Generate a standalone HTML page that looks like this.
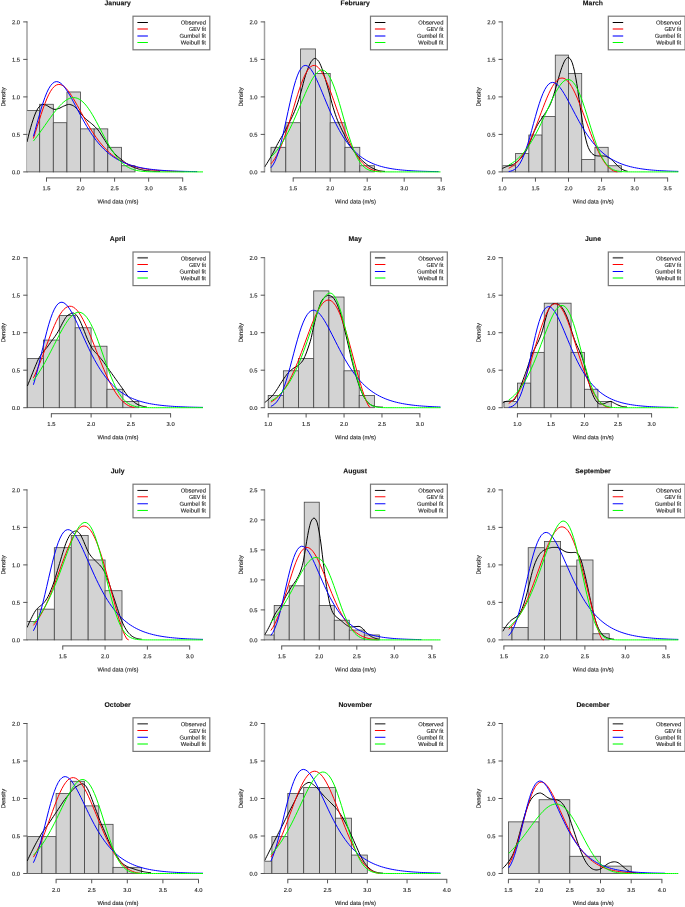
<!DOCTYPE html>
<html><head><meta charset="utf-8"><title>Monthly wind data density fits</title>
<style>
html,body{margin:0;padding:0;background:#fff}
svg{display:block}
text{font-family:"Liberation Sans",sans-serif;fill:#222;text-rendering:geometricPrecision}
.t{font-size:5.8px;stroke:#222;stroke-width:.12px}
.ti{font-size:6.85px;font-weight:bold;fill:#111;stroke:#111;stroke-width:.1px}
.bar rect{fill:#d3d3d3;stroke:#444;stroke-width:.8}
.cv path{fill:none;stroke-width:1;stroke-linejoin:round}
.k{stroke:#000}.r{stroke:#f00}.b{stroke:#00f}.g{stroke:#0f0}
.lw{stroke-width:1.1;fill:none}.th{stroke-width:1.8}.th.k{stroke:#666}.th.r{stroke:#f66}.th.b{stroke:#66f}.th.g{stroke:#6f6}
.ay{fill:none;stroke:#a0a0a0;stroke-width:1.5}.tk{fill:none;stroke:#555;stroke-width:1}.xl{fill:none;stroke:#777;stroke-width:1.2}
.lg{fill:#fff;stroke:#777;stroke-width:1.2}
</style></head>
<body>
<svg width="685" height="907" viewBox="0 0 685 907">
<g><clipPath id="c1"><rect x="27.1" y="16.1" width="182.7" height="161.7"/></clipPath>
<path class="ay" d="M27 172.3 V21.5"/>
<g clip-path="url(#c1)" class="bar"><rect x="26.07" y="110.42" width="13.62" height="61.48"/><rect x="39.69" y="104.28" width="13.62" height="67.62"/><rect x="53.31" y="122.72" width="13.62" height="49.18"/><rect x="66.93" y="91.98" width="13.62" height="79.92"/><rect x="80.55" y="128.87" width="13.62" height="43.03"/><rect x="94.17" y="128.87" width="13.62" height="43.03"/><rect x="107.79" y="147.31" width="13.62" height="24.59"/><rect x="121.41" y="165.75" width="13.62" height="6.15"/></g>
<g clip-path="url(#c1)" class="cv"><path class="k" d="M27 142 L28.22 136.87 L29.44 132.08 L30.66 127.63 L31.88 123.49 L33.1 119.7 L34.32 116.15 L35.54 113 L36.76 110.47 L37.98 108.29 L39.2 106.81 L40.42 105.68 L41.64 104.8 L42.86 104.4 L44.08 104.53 L45.3 104.91 L46.52 105.4 L47.74 105.97 L48.96 106.75 L50.18 107.57 L51.4 108.18 L52.62 108.76 L53.84 109.22 L55.06 109.4 L56.28 109.25 L57.5 108.91 L58.72 108.49 L59.94 108.03 L61.17 107.42 L62.39 106.76 L63.61 106.16 L64.83 105.66 L66.05 105.14 L67.27 104.69 L68.49 104.43 L69.71 104.45 L70.93 104.75 L72.15 105.23 L73.37 105.78 L74.59 106.66 L75.81 107.8 L77.03 109.03 L78.25 110.37 L79.47 111.9 L80.69 113.45 L81.91 114.9 L83.13 116.21 L84.35 117.47 L85.57 118.68 L86.79 119.81 L88.01 120.85 L89.23 121.8 L90.45 122.73 L91.67 123.71 L92.89 124.79 L94.11 125.91 L95.33 127.09 L96.55 128.35 L97.77 129.73 L98.99 131.28 L100.21 133.05 L101.43 134.96 L102.65 136.91 L103.87 138.81 L105.09 140.67 L106.31 142.57 L107.53 144.46 L108.75 146.28 L109.97 147.96 L111.19 149.54 L112.41 151.05 L113.63 152.49 L114.85 153.83 L116.07 155.07 L117.29 156.2 L118.51 157.25 L119.73 158.23 L120.95 159.19 L122.17 160.14 L123.39 161.1 L124.61 162.05 L125.83 162.96 L127.06 163.81 L128.28 164.56 L129.5 165.26 L130.72 165.9 L131.94 166.5 L133.16 167.05 L134.38 167.55 L135.6 168.02 L136.82 168.46 L138.04 168.86 L139.26 169.21 L140.48 169.51 L141.7 169.78 L142.92 170.04 L144.14 170.28 L145.36 170.48 L146.58 170.65 L147.8 170.78 L149.02 170.88 L150.24 170.97 L151.46 171.06 L152.68 171.14 L153.9 171.22 L155.12 171.28 L156.34 171.33 L157.56 171.37 L158.78 171.39 L160 171.4"/><path class="r" d="M33.4 138.46 L35.31 132.62 L37.21 126.6 L39.12 120.56 L41.02 114.64 L42.93 108.98 L44.83 103.71 L46.74 98.95 L48.64 94.78 L50.55 91.28 L52.46 88.49 L54.36 86.43 L56.27 85.09 L58.17 84.46 L60.08 84.5 L61.98 85.17 L63.89 86.39 L65.8 88.12 L67.7 90.29 L69.61 92.82 L71.51 95.65 L73.42 98.72 L75.32 101.96 L77.23 105.33 L79.13 108.77 L81.04 112.24 L82.95 115.7 L84.85 119.12 L86.76 122.47 L88.66 125.73 L90.57 128.88 L92.47 131.91 L94.38 134.8 L96.29 137.55 L98.19 140.17 L100.1 142.63 L102 144.95 L103.91 147.13 L105.81 149.16 L107.72 151.06 L109.62 152.82 L111.53 154.46 L113.44 155.98 L115.34 157.38 L117.25 158.68 L119.15 159.87 L121.06 160.97 L122.96 161.97 L124.87 162.9 L126.78 163.74 L128.68 164.51 L130.59 165.22 L132.49 165.86 L134.4 166.45 L136.3 166.98 L138.21 167.47 L140.11 167.91 L142.02 168.31 L143.93 168.67 L145.83 169 L147.74 169.3 L149.64 169.57 L151.55 169.81 L153.45 170.03 L155.36 170.23 L157.27 170.41 L159.17 170.57 L161.08 170.71 L162.98 170.84 L164.89 170.95 L166.79 171.06 L168.7 171.15 L170.6 171.24 L172.51 171.31 L174.42 171.38 L176.32 171.44 L178.23 171.49 L180.13 171.54 L182.04 171.58 L183.94 171.62"/><path class="b" d="M33.4 136.43 L35.31 129.64 L37.21 122.7 L39.12 115.84 L41.02 109.24 L42.93 103.11 L44.83 97.58 L46.74 92.79 L48.64 88.82 L50.55 85.72 L52.46 83.5 L54.36 82.14 L56.27 81.61 L58.17 81.85 L60.08 82.79 L61.98 84.34 L63.89 86.41 L65.8 88.94 L67.7 91.82 L69.61 94.97 L71.51 98.34 L73.42 101.85 L75.32 105.44 L77.23 109.06 L79.13 112.66 L81.04 116.22 L82.95 119.7 L84.85 123.08 L86.76 126.34 L88.66 129.46 L90.57 132.44 L92.47 135.28 L94.38 137.95 L96.29 140.48 L98.19 142.86 L100.1 145.08 L102 147.16 L103.91 149.1 L105.81 150.91 L107.72 152.59 L109.62 154.15 L111.53 155.59 L113.44 156.92 L115.34 158.16 L117.25 159.29 L119.15 160.34 L121.06 161.31 L122.96 162.2 L124.87 163.01 L126.78 163.76 L128.68 164.45 L130.59 165.09 L132.49 165.67 L134.4 166.2 L136.3 166.69 L138.21 167.13 L140.11 167.54 L142.02 167.92 L143.93 168.26 L145.83 168.58 L147.74 168.86 L149.64 169.13 L151.55 169.37 L153.45 169.59 L155.36 169.79 L157.27 169.97 L159.17 170.14 L161.08 170.29 L162.98 170.43 L164.89 170.56 L166.79 170.68 L168.7 170.78 L170.6 170.88 L172.51 170.97 L174.42 171.05 L176.32 171.12 L178.23 171.19 L180.13 171.25 L182.04 171.31 L183.94 171.36 L185.85 171.41 L187.76 171.45 L189.66 171.49 L191.57 171.53 L193.47 171.56 L195.38 171.59 L197.28 171.62"/><path class="g" d="M33.4 141.06 L35.31 138.63 L37.21 136.12 L39.12 133.54 L41.02 130.9 L42.93 128.22 L44.83 125.52 L46.74 122.8 L48.64 120.1 L50.55 117.43 L52.46 114.82 L54.36 112.29 L56.27 109.87 L58.17 107.59 L60.08 105.47 L61.98 103.55 L63.89 101.85 L65.8 100.4 L67.7 99.23 L69.61 98.36 L71.51 97.81 L73.42 97.6 L75.32 97.75 L77.23 98.26 L79.13 99.13 L81.04 100.38 L82.95 101.99 L84.85 103.94 L86.76 106.23 L88.66 108.82 L90.57 111.68 L92.47 114.79 L94.38 118.1 L96.29 121.57 L98.19 125.15 L100.1 128.8 L102 132.47 L103.91 136.11 L105.81 139.68 L107.72 143.14 L109.62 146.45 L111.53 149.59 L113.44 152.52 L115.34 155.23 L117.25 157.71 L119.15 159.94 L121.06 161.93 L122.96 163.68 L124.87 165.2 L126.78 166.5 L128.68 167.6 L130.59 168.52 L132.49 169.28 L134.4 169.9 L136.3 170.39 L138.21 170.77 L140.11 171.07 L142.02 171.3 L143.93 171.48 L145.83 171.6 L147.74 171.7 L149.64 171.76 L151.55 171.81 L153.45 171.84 L155.36 171.86 L157.27 171.88 L159.17 171.89 L161.08 171.89 L162.98 171.89 L164.89 171.9 L166.79 171.9 L168.7 171.9 L170.6 171.9 L172.51 171.9 L174.42 171.9 L176.32 171.9 L178.23 171.9 L180.13 171.9 L182.04 171.9 L183.94 171.9 L185.85 171.9 L187.76 171.9 L189.66 171.9 L191.57 171.9 L193.47 171.9 L195.38 171.9 L197.28 171.9 L199.19 171.9 L201.09 171.9 L203 171.9"/></g>
<path class="tk" d="M27.4 171.9 h-4.2M27.4 134.4 h-4.2M27.4 96.9 h-4.2M27.4 59.4 h-4.2M27.4 21.9 h-4.2"/><path class="xl" d="M46.1 177.8 H183.1"/><path class="tk" d="M46.5 177.8 v3.9M80.55 177.8 v3.9M114.6 177.8 v3.9M148.65 177.8 v3.9M182.7 177.8 v3.9"/><text class="t" text-anchor="end" transform="translate(20.1 174.2) rotate(0.03)">0.0</text><text class="t" text-anchor="end" transform="translate(20.1 136.7) rotate(0.03)">0.5</text><text class="t" text-anchor="end" transform="translate(20.1 99.2) rotate(0.03)">1.0</text><text class="t" text-anchor="end" transform="translate(20.1 61.7) rotate(0.03)">1.5</text><text class="t" text-anchor="end" transform="translate(20.1 24.2) rotate(0.03)">2.0</text><text class="t" text-anchor="middle" transform="translate(46.5 190.3) rotate(0.03)">1.5</text><text class="t" text-anchor="middle" transform="translate(80.55 190.3) rotate(0.03)">2.0</text><text class="t" text-anchor="middle" transform="translate(114.6 190.3) rotate(0.03)">2.5</text><text class="t" text-anchor="middle" transform="translate(148.65 190.3) rotate(0.03)">3.0</text><text class="t" text-anchor="middle" transform="translate(182.7 190.3) rotate(0.03)">3.5</text><text class="t" text-anchor="middle" transform="translate(117.85 203.5) rotate(0.03)">Wind data (m/s)</text><text class="t" text-anchor="middle" transform="translate(5.3 96.9) rotate(-89.97)">Density</text><text class="ti" text-anchor="middle" transform="translate(117.65 5.3) rotate(0.03)">January</text><rect class="lg" x="133" y="16.2" width="76.8" height="33.6"/><path fill="none" stroke="#000" stroke-width="1.0" d="M137.4 22.5 h10.5"/><text class="t" text-anchor="end" transform="translate(205.9 24.6) rotate(0.03)">Observed</text><path fill="none" stroke="#f66" stroke-width="1.8" d="M137.4 29 h10.5"/><text class="t" text-anchor="end" textLength="16.8" lengthAdjust="spacingAndGlyphs" transform="translate(205.9 31.2) rotate(0.03)">GEV fit</text><path fill="none" stroke="#66f" stroke-width="1.8" d="M137.4 36 h10.5"/><text class="t" text-anchor="end" transform="translate(205.9 37.8) rotate(0.03)">Gumbel fit</text><path fill="none" stroke="#0f0" stroke-width="1.0" d="M137.4 42.5 h10.5"/><text class="t" text-anchor="end" transform="translate(205.9 44.4) rotate(0.03)">Weibull fit</text></g>
<g><clipPath id="c2"><rect x="264.6" y="16.1" width="182.7" height="161.7"/></clipPath>
<path class="ay" d="M264.5 172.3 V21.5"/>
<g clip-path="url(#c2)" class="bar"><rect x="271" y="147.31" width="14.8" height="24.59"/><rect x="285.8" y="122.72" width="14.8" height="49.18"/><rect x="300.6" y="48.95" width="14.8" height="122.95"/><rect x="315.4" y="73.54" width="14.8" height="98.36"/><rect x="330.2" y="122.72" width="14.8" height="49.18"/><rect x="345" y="147.31" width="14.8" height="24.59"/><rect x="359.8" y="165.75" width="14.8" height="6.15"/></g>
<g clip-path="url(#c2)" class="cv"><path class="k" d="M264.6 167 L265.7 165.31 L266.81 163.57 L267.91 161.79 L269.02 159.97 L270.12 158.11 L271.23 156.2 L272.33 154.23 L273.44 152.17 L274.54 149.95 L275.65 147.67 L276.75 145.47 L277.86 143.44 L278.96 141.51 L280.06 139.62 L281.17 137.71 L282.27 135.8 L283.38 133.91 L284.48 131.95 L285.59 129.88 L286.69 127.69 L287.8 125.44 L288.9 123.2 L290.01 121.03 L291.11 118.9 L292.21 116.68 L293.32 114.28 L294.42 111.71 L295.53 108.97 L296.63 106.02 L297.74 102.84 L298.84 99.35 L299.95 95.64 L301.05 91.82 L302.16 87.68 L303.26 83.32 L304.37 79.14 L305.47 75.53 L306.57 72.22 L307.68 69.19 L308.78 66.48 L309.89 64.03 L310.99 61.81 L312.1 60.3 L313.2 59.27 L314.31 58.55 L315.41 58.45 L316.52 59.04 L317.62 60.03 L318.72 61.33 L319.83 63.39 L320.93 65.85 L322.04 68.66 L323.14 71.97 L324.25 75.55 L325.35 79.15 L326.46 82.9 L327.56 86.8 L328.67 90.79 L329.77 94.87 L330.88 99.16 L331.98 103.39 L333.08 107.28 L334.19 110.87 L335.29 114.26 L336.4 117.41 L337.5 120.26 L338.61 122.85 L339.71 125.27 L340.82 127.61 L341.92 129.91 L343.03 132.11 L344.13 134.28 L345.23 136.47 L346.34 138.76 L347.44 141.05 L348.55 143.2 L349.65 145.09 L350.76 146.81 L351.86 148.42 L352.97 149.95 L354.07 151.42 L355.18 152.81 L356.28 154.15 L357.39 155.45 L358.49 156.72 L359.59 157.94 L360.7 159.1 L361.8 160.18 L362.91 161.2 L364.01 162.17 L365.12 163.1 L366.22 163.98 L367.33 164.82 L368.43 165.61 L369.54 166.36 L370.64 167.08 L371.74 167.75 L372.85 168.33 L373.95 168.84 L375.06 169.32 L376.16 169.76 L377.27 170.15 L378.37 170.46 L379.48 170.69 L380.58 170.9 L381.69 171.09 L382.79 171.24 L383.9 171.35 L385 171.4"/><path class="r" d="M270.9 163.84 L272.81 161.56 L274.71 158.82 L276.62 155.61 L278.52 151.89 L280.43 147.67 L282.33 142.95 L284.24 137.77 L286.14 132.17 L288.05 126.22 L289.96 120.01 L291.86 113.63 L293.77 107.21 L295.67 100.85 L297.58 94.69 L299.48 88.86 L301.39 83.47 L303.3 78.63 L305.2 74.45 L307.11 71 L309.01 68.34 L310.92 66.52 L312.82 65.56 L314.73 65.46 L316.63 66.2 L318.54 67.74 L320.45 70.03 L322.35 73.01 L324.26 76.59 L326.16 80.69 L328.07 85.24 L329.97 90.13 L331.88 95.27 L333.79 100.59 L335.69 106.01 L337.6 111.43 L339.5 116.81 L341.41 122.07 L343.31 127.16 L345.22 132.04 L347.12 136.67 L349.03 141.03 L350.94 145.09 L352.84 148.84 L354.75 152.26 L356.65 155.37 L358.56 158.16 L360.46 160.63 L362.37 162.8 L364.28 164.69 L366.18 166.3 L368.09 167.65 L369.99 168.77 L371.9 169.68 L373.8 170.39 L375.71 170.93 L377.61 171.33 L379.52 171.59 L381.43 171.76"/><path class="b" d="M270.9 167.76 L272.81 165.26 L274.71 161.8 L276.62 157.29 L278.52 151.68 L280.43 145 L282.33 137.41 L284.24 129.11 L286.14 120.36 L288.05 111.48 L289.96 102.79 L291.86 94.57 L293.77 87.09 L295.67 80.56 L297.58 75.13 L299.48 70.89 L301.39 67.87 L303.3 66.06 L305.2 65.41 L307.11 65.81 L309.01 67.16 L310.92 69.34 L312.82 72.22 L314.73 75.66 L316.63 79.55 L318.54 83.77 L320.45 88.21 L322.35 92.79 L324.26 97.42 L326.16 102.04 L328.07 106.59 L329.97 111.03 L331.88 115.32 L333.79 119.44 L335.69 123.37 L337.6 127.1 L339.5 130.62 L341.41 133.92 L343.31 137.01 L345.22 139.9 L347.12 142.58 L349.03 145.07 L350.94 147.37 L352.84 149.49 L354.75 151.45 L356.65 153.25 L358.56 154.91 L360.46 156.42 L362.37 157.81 L364.28 159.08 L366.18 160.25 L368.09 161.31 L369.99 162.27 L371.9 163.16 L373.8 163.96 L375.71 164.69 L377.61 165.36 L379.52 165.96 L381.43 166.52 L383.33 167.02 L385.24 167.47 L387.14 167.88 L389.05 168.26 L390.95 168.6 L392.86 168.91 L394.77 169.19 L396.67 169.44 L398.58 169.67 L400.48 169.88 L402.39 170.07 L404.29 170.24 L406.2 170.4 L408.1 170.54 L410.01 170.67 L411.92 170.79 L413.82 170.89 L415.73 170.99 L417.63 171.07 L419.54 171.15 L421.44 171.22 L423.35 171.29 L425.26 171.34 L427.16 171.4 L429.07 171.44 L430.97 171.49 L432.88 171.53 L434.78 171.56 L436.69 171.59 L438.59 171.62"/><path class="g" d="M270.9 157.13 L272.81 155.19 L274.71 153.07 L276.62 150.75 L278.52 148.22 L280.43 145.48 L282.33 142.53 L284.24 139.35 L286.14 135.96 L288.05 132.36 L289.96 128.56 L291.86 124.57 L293.77 120.4 L295.67 116.09 L297.58 111.67 L299.48 107.17 L301.39 102.64 L303.3 98.13 L305.2 93.7 L307.11 89.43 L309.01 85.37 L310.92 81.62 L312.82 78.25 L314.73 75.35 L316.63 73 L318.54 71.28 L320.45 70.26 L322.35 70.01 L324.26 70.58 L326.16 71.99 L328.07 74.26 L329.97 77.38 L331.88 81.32 L333.79 86 L335.69 91.35 L337.6 97.26 L339.5 103.6 L341.41 110.22 L343.31 116.98 L345.22 123.71 L347.12 130.28 L349.03 136.54 L350.94 142.38 L352.84 147.7 L354.75 152.44 L356.65 156.58 L358.56 160.09 L360.46 163 L362.37 165.35 L364.28 167.2 L366.18 168.62 L368.09 169.67 L369.99 170.43 L371.9 170.96 L373.8 171.32 L375.71 171.55 L377.61 171.7 L379.52 171.79 L381.43 171.84 L383.33 171.87 L385.24 171.88 L387.14 171.89 L389.05 171.9 L390.95 171.9 L392.86 171.9 L394.77 171.9 L396.67 171.9 L398.58 171.9 L400.48 171.9 L402.39 171.9 L404.29 171.9 L406.2 171.9 L408.1 171.9 L410.01 171.9 L411.92 171.9 L413.82 171.9 L415.73 171.9 L417.63 171.9 L419.54 171.9 L421.44 171.9 L423.35 171.9 L425.26 171.9 L427.16 171.9 L429.07 171.9 L430.97 171.9 L432.88 171.9 L434.78 171.9 L436.69 171.9 L438.59 171.9 L440.5 171.9"/></g>
<path class="tk" d="M264.9 171.9 h-4.2M264.9 134.4 h-4.2M264.9 96.9 h-4.2M264.9 59.4 h-4.2M264.9 21.9 h-4.2"/><path class="xl" d="M292.8 177.8 H441.6"/><path class="tk" d="M293.2 177.8 v3.9M330.2 177.8 v3.9M367.2 177.8 v3.9M404.2 177.8 v3.9M441.2 177.8 v3.9"/><text class="t" text-anchor="end" transform="translate(257.6 174.2) rotate(0.03)">0.0</text><text class="t" text-anchor="end" transform="translate(257.6 136.7) rotate(0.03)">0.5</text><text class="t" text-anchor="end" transform="translate(257.6 99.2) rotate(0.03)">1.0</text><text class="t" text-anchor="end" transform="translate(257.6 61.7) rotate(0.03)">1.5</text><text class="t" text-anchor="end" transform="translate(257.6 24.2) rotate(0.03)">2.0</text><text class="t" text-anchor="middle" transform="translate(293.2 190.3) rotate(0.03)">1.5</text><text class="t" text-anchor="middle" transform="translate(330.2 190.3) rotate(0.03)">2.0</text><text class="t" text-anchor="middle" transform="translate(367.2 190.3) rotate(0.03)">2.5</text><text class="t" text-anchor="middle" transform="translate(404.2 190.3) rotate(0.03)">3.0</text><text class="t" text-anchor="middle" transform="translate(441.2 190.3) rotate(0.03)">3.5</text><text class="t" text-anchor="middle" transform="translate(355.35 203.5) rotate(0.03)">Wind data (m/s)</text><text class="t" text-anchor="middle" transform="translate(242.8 96.9) rotate(-89.97)">Density</text><text class="ti" text-anchor="middle" transform="translate(355.15 5.3) rotate(0.03)">February</text><rect class="lg" x="370.5" y="16.2" width="76.8" height="33.6"/><path fill="none" stroke="#000" stroke-width="1.0" d="M374.9 22.5 h10.5"/><text class="t" text-anchor="end" transform="translate(443.4 24.6) rotate(0.03)">Observed</text><path fill="none" stroke="#f66" stroke-width="1.8" d="M374.9 29 h10.5"/><text class="t" text-anchor="end" textLength="16.8" lengthAdjust="spacingAndGlyphs" transform="translate(443.4 31.2) rotate(0.03)">GEV fit</text><path fill="none" stroke="#66f" stroke-width="1.8" d="M374.9 36 h10.5"/><text class="t" text-anchor="end" transform="translate(443.4 37.8) rotate(0.03)">Gumbel fit</text><path fill="none" stroke="#0f0" stroke-width="1.0" d="M374.9 42.5 h10.5"/><text class="t" text-anchor="end" transform="translate(443.4 44.4) rotate(0.03)">Weibull fit</text></g>
<g><clipPath id="c3"><rect x="502.4" y="16.1" width="182.7" height="161.7"/></clipPath>
<path class="ay" d="M502.3 172.3 V21.5"/>
<g clip-path="url(#c3)" class="bar"><rect x="502.4" y="165.75" width="13.22" height="6.15"/><rect x="515.62" y="153.46" width="13.22" height="18.44"/><rect x="528.84" y="135.01" width="13.22" height="36.89"/><rect x="542.06" y="116.57" width="13.22" height="55.33"/><rect x="555.28" y="55.1" width="13.22" height="116.8"/><rect x="568.5" y="73.54" width="13.22" height="98.36"/><rect x="581.72" y="159.6" width="13.22" height="12.3"/><rect x="594.94" y="147.31" width="13.22" height="24.59"/><rect x="608.16" y="165.75" width="13.22" height="6.15"/></g>
<g clip-path="url(#c3)" class="cv"><path class="k" d="M501.9 168.65 L503.05 168.15 L504.2 167.64 L505.36 167.12 L506.51 166.61 L507.66 166.13 L508.81 165.71 L509.97 165.37 L511.12 165.04 L512.27 164.69 L513.42 164.26 L514.58 163.7 L515.73 162.94 L516.88 162.02 L518.03 160.97 L519.18 159.83 L520.34 158.65 L521.49 157.38 L522.64 155.97 L523.79 154.43 L524.95 152.72 L526.1 150.83 L527.25 148.54 L528.4 145.87 L529.56 143.07 L530.71 140.27 L531.86 137.29 L533.01 134.34 L534.16 131.64 L535.32 129.15 L536.47 126.82 L537.62 124.66 L538.77 122.73 L539.93 121 L541.08 119.35 L542.23 117.66 L543.38 115.96 L544.53 114.27 L545.69 112.5 L546.84 110.66 L547.99 108.78 L549.14 106.72 L550.3 104.35 L551.45 101.49 L552.6 98.24 L553.75 94.76 L554.91 91.04 L556.06 86.93 L557.21 82.75 L558.36 78.76 L559.51 74.74 L560.67 70.86 L561.82 67.46 L562.97 64.56 L564.12 61.88 L565.28 59.78 L566.43 58.51 L567.58 57.62 L568.73 57.48 L569.89 58.48 L571.04 60.09 L572.19 62.71 L573.34 66.44 L574.49 71.17 L575.65 77.17 L576.8 83.76 L577.95 91.31 L579.1 99.31 L580.26 107.15 L581.41 115.05 L582.56 122.36 L583.71 129.08 L584.87 135.16 L586.02 140.08 L587.17 144.28 L588.32 147.59 L589.47 150.02 L590.63 151.96 L591.78 153.26 L592.93 154.27 L594.08 155.06 L595.24 155.54 L596.39 155.74 L597.54 155.89 L598.69 155.98 L599.84 156 L601 156 L602.15 156 L603.3 156 L604.45 156.08 L605.61 156.35 L606.76 156.73 L607.91 157.17 L609.06 157.8 L610.22 158.6 L611.37 159.5 L612.52 160.51 L613.67 161.69 L614.82 162.92 L615.98 164.07 L617.13 165.23 L618.28 166.35 L619.43 167.35 L620.59 168.23 L621.74 169.04 L622.89 169.72 L624.04 170.22 L625.2 170.64 L626.35 170.98 L627.5 171.2"/><path class="r" d="M508.7 168.31 L510.61 167.31 L512.51 166.09 L514.42 164.64 L516.32 162.91 L518.23 160.88 L520.13 158.54 L522.04 155.87 L523.94 152.85 L525.85 149.48 L527.76 145.77 L529.66 141.72 L531.57 137.38 L533.47 132.77 L535.38 127.94 L537.28 122.94 L539.19 117.86 L541.1 112.75 L543 107.7 L544.91 102.8 L546.81 98.13 L548.72 93.77 L550.62 89.82 L552.53 86.34 L554.43 83.39 L556.34 81.05 L558.25 79.35 L560.15 78.33 L562.06 78 L563.96 78.37 L565.87 79.43 L567.77 81.15 L569.68 83.51 L571.59 86.45 L573.49 89.92 L575.4 93.85 L577.3 98.18 L579.21 102.83 L581.11 107.73 L583.02 112.79 L584.92 117.96 L586.83 123.14 L588.74 128.29 L590.64 133.32 L592.55 138.19 L594.45 142.85 L596.36 147.24 L598.26 151.34 L600.17 155.11 L602.08 158.52 L603.98 161.56 L605.89 164.21 L607.79 166.46 L609.7 168.32 L611.6 169.78 L613.51 170.85 L615.41 171.54 L617.32 171.86"/><path class="b" d="M508.7 171.52 L510.61 171.16 L512.51 170.54 L514.42 169.55 L516.32 168.07 L518.23 165.98 L520.13 163.16 L522.04 159.55 L523.94 155.12 L525.85 149.91 L527.76 143.99 L529.66 137.52 L531.57 130.67 L533.47 123.65 L535.38 116.69 L537.28 110.01 L539.19 103.78 L541.1 98.19 L543 93.36 L544.91 89.38 L546.81 86.29 L548.72 84.12 L550.62 82.83 L552.53 82.4 L554.43 82.75 L556.34 83.81 L558.25 85.48 L560.15 87.69 L562.06 90.33 L563.96 93.33 L565.87 96.59 L567.77 100.04 L569.68 103.62 L571.59 107.27 L573.49 110.93 L575.4 114.57 L577.3 118.14 L579.21 121.62 L581.11 124.99 L583.02 128.23 L584.92 131.32 L586.83 134.26 L588.74 137.05 L590.64 139.67 L592.55 142.14 L594.45 144.46 L596.36 146.62 L598.26 148.64 L600.17 150.51 L602.08 152.25 L603.98 153.86 L605.89 155.36 L607.79 156.73 L609.7 158.01 L611.6 159.18 L613.51 160.26 L615.41 161.25 L617.32 162.16 L619.23 163 L621.13 163.76 L623.04 164.47 L624.94 165.11 L626.85 165.7 L628.75 166.24 L630.66 166.74 L632.57 167.19 L634.47 167.6 L636.38 167.98 L638.28 168.32 L640.19 168.64 L642.09 168.93 L644 169.19 L645.9 169.43 L647.81 169.65 L649.72 169.85 L651.62 170.03 L653.53 170.19 L655.43 170.35 L657.34 170.48 L659.24 170.61 L661.15 170.72 L663.06 170.83 L664.96 170.92 L666.87 171.01 L668.77 171.09 L670.68 171.16 L672.58 171.23 L674.49 171.29 L676.39 171.34 L678.3 171.39"/><path class="g" d="M508.7 165.1 L510.61 164.02 L512.51 162.81 L514.42 161.47 L516.32 159.96 L518.23 158.3 L520.13 156.46 L522.04 154.44 L523.94 152.24 L525.85 149.83 L527.76 147.22 L529.66 144.41 L531.57 141.39 L533.47 138.16 L535.38 134.74 L537.28 131.13 L539.19 127.36 L541.1 123.43 L543 119.38 L544.91 115.24 L546.81 111.05 L548.72 106.85 L550.62 102.72 L552.53 98.69 L554.43 94.85 L556.34 91.26 L558.25 88.01 L560.15 85.16 L562.06 82.81 L563.96 81.02 L565.87 79.86 L567.77 79.41 L569.68 79.7 L571.59 80.77 L573.49 82.64 L575.4 85.31 L577.3 88.74 L579.21 92.88 L581.11 97.66 L583.02 102.98 L584.92 108.71 L586.83 114.74 L588.74 120.91 L590.64 127.08 L592.55 133.13 L594.45 138.9 L596.36 144.3 L598.26 149.24 L600.17 153.65 L602.08 157.51 L603.98 160.79 L605.89 163.51 L607.79 165.72 L609.7 167.46 L611.6 168.79 L613.51 169.78 L615.41 170.5 L617.32 171 L619.23 171.34 L621.13 171.57 L623.04 171.71 L624.94 171.79 L626.85 171.84 L628.75 171.87 L630.66 171.89 L632.57 171.89 L634.47 171.9 L636.38 171.9 L638.28 171.9 L640.19 171.9 L642.09 171.9 L644 171.9 L645.9 171.9 L647.81 171.9 L649.72 171.9 L651.62 171.9 L653.53 171.9 L655.43 171.9 L657.34 171.9 L659.24 171.9 L661.15 171.9 L663.06 171.9 L664.96 171.9 L666.87 171.9 L668.77 171.9 L670.68 171.9 L672.58 171.9 L674.49 171.9 L676.39 171.9 L678.3 171.9"/></g>
<path class="tk" d="M502.7 171.9 h-4.2M502.7 134.4 h-4.2M502.7 96.9 h-4.2M502.7 59.4 h-4.2M502.7 21.9 h-4.2"/><path class="xl" d="M502 177.8 H668.05"/><path class="tk" d="M502.4 177.8 v3.9M535.45 177.8 v3.9M568.5 177.8 v3.9M601.55 177.8 v3.9M634.6 177.8 v3.9M667.65 177.8 v3.9"/><text class="t" text-anchor="end" transform="translate(495.4 174.2) rotate(0.03)">0.0</text><text class="t" text-anchor="end" transform="translate(495.4 136.7) rotate(0.03)">0.5</text><text class="t" text-anchor="end" transform="translate(495.4 99.2) rotate(0.03)">1.0</text><text class="t" text-anchor="end" transform="translate(495.4 61.7) rotate(0.03)">1.5</text><text class="t" text-anchor="end" transform="translate(495.4 24.2) rotate(0.03)">2.0</text><text class="t" text-anchor="middle" transform="translate(502.4 190.3) rotate(0.03)">1.0</text><text class="t" text-anchor="middle" transform="translate(535.45 190.3) rotate(0.03)">1.5</text><text class="t" text-anchor="middle" transform="translate(568.5 190.3) rotate(0.03)">2.0</text><text class="t" text-anchor="middle" transform="translate(601.55 190.3) rotate(0.03)">2.5</text><text class="t" text-anchor="middle" transform="translate(634.6 190.3) rotate(0.03)">3.0</text><text class="t" text-anchor="middle" transform="translate(667.65 190.3) rotate(0.03)">3.5</text><text class="t" text-anchor="middle" transform="translate(593.15 203.5) rotate(0.03)">Wind data (m/s)</text><text class="t" text-anchor="middle" transform="translate(480.6 96.9) rotate(-89.97)">Density</text><text class="ti" text-anchor="middle" transform="translate(592.95 5.3) rotate(0.03)">March</text><rect class="lg" x="608.3" y="16.2" width="76.8" height="33.6"/><path fill="none" stroke="#000" stroke-width="1.0" d="M612.7 22.5 h10.5"/><text class="t" text-anchor="end" transform="translate(681.2 24.6) rotate(0.03)">Observed</text><path fill="none" stroke="#f66" stroke-width="1.8" d="M612.7 29 h10.5"/><text class="t" text-anchor="end" textLength="16.8" lengthAdjust="spacingAndGlyphs" transform="translate(681.2 31.2) rotate(0.03)">GEV fit</text><path fill="none" stroke="#66f" stroke-width="1.8" d="M612.7 36 h10.5"/><text class="t" text-anchor="end" transform="translate(681.2 37.8) rotate(0.03)">Gumbel fit</text><path fill="none" stroke="#0f0" stroke-width="1.0" d="M612.7 42.5 h10.5"/><text class="t" text-anchor="end" transform="translate(681.2 44.4) rotate(0.03)">Weibull fit</text></g>
<g><clipPath id="c4"><rect x="27.1" y="251.9" width="182.7" height="161.7"/></clipPath>
<path class="ay" d="M27 408.1 V257.3"/>
<g clip-path="url(#c4)" class="bar"><rect x="27.5" y="358.52" width="15.9" height="49.18"/><rect x="43.4" y="340.08" width="15.9" height="67.62"/><rect x="59.3" y="315.49" width="15.9" height="92.21"/><rect x="75.2" y="327.78" width="15.9" height="79.92"/><rect x="91.1" y="346.22" width="15.9" height="61.48"/><rect x="107" y="389.26" width="15.9" height="18.44"/><rect x="122.9" y="401.55" width="15.9" height="6.15"/></g>
<g clip-path="url(#c4)" class="cv"><path class="k" d="M27.4 386 L28.5 383.26 L29.59 380.52 L30.69 377.78 L31.78 375.03 L32.88 372.25 L33.97 369.49 L35.07 366.84 L36.16 364.21 L37.26 361.62 L38.35 359.24 L39.45 357.21 L40.54 355.44 L41.64 353.83 L42.74 352.35 L43.83 350.98 L44.93 349.76 L46.02 348.56 L47.12 347.25 L48.21 345.8 L49.31 344.26 L50.4 342.69 L51.5 341.14 L52.59 339.65 L53.69 338.19 L54.79 336.69 L55.88 335.08 L56.98 333.38 L58.07 331.6 L59.17 329.7 L60.26 327.59 L61.36 325.35 L62.45 323.19 L63.55 321.23 L64.64 319.29 L65.74 317.51 L66.83 316.15 L67.93 315.26 L69.03 314.56 L70.12 314.01 L71.22 313.49 L72.31 313.09 L73.41 313.05 L74.5 313.54 L75.6 314.39 L76.69 315.39 L77.79 316.92 L78.88 318.86 L79.98 320.95 L81.08 323.31 L82.17 325.95 L83.27 328.69 L84.36 331.39 L85.46 334.24 L86.55 337.06 L87.65 339.67 L88.74 342.01 L89.84 344.27 L90.93 346.36 L92.03 348.24 L93.12 349.84 L94.22 351.19 L95.32 352.37 L96.41 353.5 L97.51 354.67 L98.6 355.93 L99.7 357.21 L100.79 358.5 L101.89 359.84 L102.98 361.24 L104.08 362.71 L105.17 364.25 L106.27 365.82 L107.37 367.39 L108.46 368.92 L109.56 370.46 L110.65 371.99 L111.75 373.53 L112.84 375.06 L113.94 376.59 L115.03 378.13 L116.13 379.66 L117.22 381.19 L118.32 382.73 L119.41 384.26 L120.51 385.79 L121.61 387.33 L122.7 388.86 L123.8 390.43 L124.89 392.05 L125.99 393.63 L127.08 395.12 L128.18 396.44 L129.27 397.64 L130.37 398.76 L131.46 399.81 L132.56 400.79 L133.66 401.73 L134.75 402.62 L135.85 403.43 L136.94 404.07 L138.04 404.61 L139.13 405.1 L140.23 405.51 L141.32 405.87 L142.42 406.16 L143.51 406.43 L144.61 406.67 L145.7 406.86 L146.8 407"/><path class="r" d="M33.4 378.14 L35.31 373.98 L37.21 369.55 L39.12 364.89 L41.02 360.02 L42.93 355.02 L44.83 349.94 L46.74 344.83 L48.64 339.77 L50.55 334.83 L52.46 330.09 L54.36 325.6 L56.27 321.45 L58.17 317.7 L60.08 314.4 L61.98 311.61 L63.89 309.37 L65.8 307.71 L67.7 306.65 L69.61 306.21 L71.51 306.39 L73.42 307.19 L75.32 308.57 L77.23 310.52 L79.13 312.99 L81.04 315.95 L82.95 319.35 L84.85 323.13 L86.76 327.24 L88.66 331.62 L90.57 336.21 L92.47 340.95 L94.38 345.79 L96.29 350.66 L98.19 355.52 L100.1 360.33 L102 365.02 L103.91 369.57 L105.81 373.94 L107.72 378.1 L109.62 382.02 L111.53 385.68 L113.44 389.07 L115.34 392.18 L117.25 394.99 L119.15 397.5 L121.06 399.72 L122.96 401.64 L124.87 403.27 L126.78 404.61 L128.68 405.69 L130.59 406.52 L132.49 407.1 L134.4 407.48"/><path class="b" d="M33.4 384.76 L35.31 378.29 L37.21 371.1 L39.12 363.38 L41.02 355.35 L42.93 347.24 L44.83 339.31 L46.74 331.77 L48.64 324.84 L50.55 318.69 L52.46 313.43 L54.36 309.16 L56.27 305.92 L58.17 303.7 L60.08 302.49 L61.98 302.22 L63.89 302.82 L65.8 304.19 L67.7 306.25 L69.61 308.89 L71.51 312.01 L73.42 315.51 L75.32 319.3 L77.23 323.31 L79.13 327.46 L81.04 331.67 L82.95 335.9 L84.85 340.1 L86.76 344.23 L88.66 348.26 L90.57 352.16 L92.47 355.91 L94.38 359.5 L96.29 362.92 L98.19 366.16 L100.1 369.22 L102 372.1 L103.91 374.81 L105.81 377.35 L107.72 379.71 L109.62 381.92 L111.53 383.97 L113.44 385.88 L115.34 387.64 L117.25 389.28 L119.15 390.79 L121.06 392.19 L122.96 393.47 L124.87 394.66 L126.78 395.75 L128.68 396.76 L130.59 397.68 L132.49 398.53 L134.4 399.31 L136.3 400.02 L138.21 400.68 L140.11 401.28 L142.02 401.83 L143.93 402.33 L145.83 402.8 L147.74 403.22 L149.64 403.61 L151.55 403.96 L153.45 404.28 L155.36 404.58 L157.27 404.85 L159.17 405.1 L161.08 405.32 L162.98 405.53 L164.89 405.72 L166.79 405.89 L168.7 406.05 L170.6 406.19 L172.51 406.32 L174.42 406.44 L176.32 406.55 L178.23 406.65 L180.13 406.74 L182.04 406.83 L183.94 406.9 L185.85 406.97 L187.76 407.04 L189.66 407.1 L191.57 407.15 L193.47 407.2 L195.38 407.24 L197.28 407.28 L199.19 407.32 L201.09 407.35 L203 407.38"/><path class="g" d="M33.4 380.56 L35.31 377.94 L37.21 375.16 L39.12 372.23 L41.02 369.15 L42.93 365.92 L44.83 362.57 L46.74 359.1 L48.64 355.52 L50.55 351.87 L52.46 348.16 L54.36 344.43 L56.27 340.7 L58.17 337.01 L60.08 333.4 L61.98 329.92 L63.89 326.61 L65.8 323.52 L67.7 320.7 L69.61 318.19 L71.51 316.07 L73.42 314.36 L75.32 313.12 L77.23 312.39 L79.13 312.21 L81.04 312.6 L82.95 313.59 L84.85 315.17 L86.76 317.36 L88.66 320.13 L90.57 323.46 L92.47 327.3 L94.38 331.6 L96.29 336.29 L98.19 341.3 L100.1 346.55 L102 351.94 L103.91 357.38 L105.81 362.79 L107.72 368.06 L109.62 373.14 L111.53 377.94 L113.44 382.4 L115.34 386.49 L117.25 390.17 L119.15 393.42 L121.06 396.25 L122.96 398.67 L124.87 400.69 L126.78 402.36 L128.68 403.71 L130.59 404.77 L132.49 405.59 L134.4 406.22 L136.3 406.68 L138.21 407.01 L140.11 407.25 L142.02 407.41 L143.93 407.52 L145.83 407.59 L147.74 407.63 L149.64 407.66 L151.55 407.68 L153.45 407.69 L155.36 407.69 L157.27 407.7 L159.17 407.7 L161.08 407.7 L162.98 407.7 L164.89 407.7 L166.79 407.7 L168.7 407.7 L170.6 407.7 L172.51 407.7 L174.42 407.7 L176.32 407.7 L178.23 407.7 L180.13 407.7 L182.04 407.7 L183.94 407.7 L185.85 407.7 L187.76 407.7 L189.66 407.7 L191.57 407.7 L193.47 407.7 L195.38 407.7 L197.28 407.7 L199.19 407.7 L201.09 407.7 L203 407.7"/></g>
<path class="tk" d="M27.4 407.7 h-4.2M27.4 370.2 h-4.2M27.4 332.7 h-4.2M27.4 295.2 h-4.2M27.4 257.7 h-4.2"/><path class="xl" d="M50.95 413.6 H171"/><path class="tk" d="M51.35 413.6 v3.9M91.1 413.6 v3.9M130.85 413.6 v3.9M170.6 413.6 v3.9"/><text class="t" text-anchor="end" transform="translate(20.1 410) rotate(0.03)">0.0</text><text class="t" text-anchor="end" transform="translate(20.1 372.5) rotate(0.03)">0.5</text><text class="t" text-anchor="end" transform="translate(20.1 335) rotate(0.03)">1.0</text><text class="t" text-anchor="end" transform="translate(20.1 297.5) rotate(0.03)">1.5</text><text class="t" text-anchor="end" transform="translate(20.1 260) rotate(0.03)">2.0</text><text class="t" text-anchor="middle" transform="translate(51.35 426.1) rotate(0.03)">1.5</text><text class="t" text-anchor="middle" transform="translate(91.1 426.1) rotate(0.03)">2.0</text><text class="t" text-anchor="middle" transform="translate(130.85 426.1) rotate(0.03)">2.5</text><text class="t" text-anchor="middle" transform="translate(170.6 426.1) rotate(0.03)">3.0</text><text class="t" text-anchor="middle" transform="translate(117.85 439.3) rotate(0.03)">Wind data (m/s)</text><text class="t" text-anchor="middle" transform="translate(5.3 332.7) rotate(-89.97)">Density</text><text class="ti" text-anchor="middle" transform="translate(117.65 241.1) rotate(0.03)">April</text><rect class="lg" x="133" y="252" width="76.8" height="33.6"/><path fill="none" stroke="#666" stroke-width="1.7" d="M137.4 257.8 h10.5"/><text class="t" text-anchor="end" transform="translate(205.9 260.4) rotate(0.03)">Observed</text><path fill="none" stroke="#f00" stroke-width="1.0" d="M137.4 264.5 h10.5"/><text class="t" text-anchor="end" textLength="16.8" lengthAdjust="spacingAndGlyphs" transform="translate(205.9 267) rotate(0.03)">GEV fit</text><path fill="none" stroke="#00f" stroke-width="1.0" d="M137.4 271.5 h10.5"/><text class="t" text-anchor="end" transform="translate(205.9 273.6) rotate(0.03)">Gumbel fit</text><path fill="none" stroke="#6f6" stroke-width="1.8" d="M137.4 278 h10.5"/><text class="t" text-anchor="end" transform="translate(205.9 280.2) rotate(0.03)">Weibull fit</text></g>
<g><clipPath id="c5"><rect x="264.6" y="251.9" width="182.7" height="161.7"/></clipPath>
<path class="ay" d="M264.5 408.1 V257.3"/>
<g clip-path="url(#c5)" class="bar"><rect x="268.2" y="395.4" width="15.17" height="12.3"/><rect x="283.37" y="370.81" width="15.17" height="36.89"/><rect x="298.54" y="358.52" width="15.17" height="49.18"/><rect x="313.71" y="290.9" width="15.17" height="116.8"/><rect x="328.88" y="297.04" width="15.17" height="110.66"/><rect x="344.05" y="370.81" width="15.17" height="36.89"/><rect x="359.22" y="395.4" width="15.17" height="12.3"/></g>
<g clip-path="url(#c5)" class="cv"><path class="k" d="M264.6 402.6 L265.69 401.79 L266.77 400.92 L267.86 400.01 L268.94 399.05 L270.03 398.06 L271.12 397.02 L272.2 395.89 L273.29 394.65 L274.38 393.24 L275.46 391.69 L276.55 390.08 L277.63 388.43 L278.72 386.68 L279.81 384.9 L280.89 383.17 L281.98 381.48 L283.07 379.81 L284.15 378.19 L285.24 376.67 L286.32 375.21 L287.41 373.81 L288.5 372.53 L289.58 371.43 L290.67 370.44 L291.76 369.54 L292.84 368.71 L293.93 367.98 L295.01 367.36 L296.1 366.75 L297.19 366.11 L298.27 365.34 L299.36 364.46 L300.45 363.47 L301.53 362.3 L302.62 360.89 L303.7 358.96 L304.79 356.6 L305.88 354.05 L306.96 351.16 L308.05 348.03 L309.14 344.86 L310.22 341.53 L311.31 337.56 L312.39 332.45 L313.48 327.44 L314.57 322.58 L315.65 318.2 L316.74 314.44 L317.83 311.04 L318.91 307.88 L320 304.74 L321.08 301.98 L322.17 300.11 L323.26 298.64 L324.34 297.51 L325.43 296.71 L326.52 296.02 L327.6 295.53 L328.69 295.41 L329.77 295.62 L330.86 296.03 L331.95 296.57 L333.03 297.45 L334.12 298.86 L335.21 300.62 L336.29 302.53 L337.38 304.85 L338.46 307.6 L339.55 310.67 L340.64 314.03 L341.72 317.94 L342.81 322.21 L343.9 326.58 L344.98 331.02 L346.07 335.66 L347.15 340.37 L348.24 345.03 L349.33 349.72 L350.41 354.41 L351.5 358.97 L352.59 363.33 L353.67 367.57 L354.76 371.65 L355.84 375.48 L356.93 379.04 L358.02 382.43 L359.1 385.59 L360.19 388.48 L361.28 391.2 L362.36 393.74 L363.45 395.99 L364.53 397.91 L365.62 399.64 L366.71 401.16 L367.79 402.4 L368.88 403.38 L369.97 404.24 L371.05 404.94 L372.14 405.46 L373.22 405.87 L374.31 406.23 L375.4 406.52 L376.48 406.73 L377.57 406.86 L378.66 406.97 L379.74 407.06 L380.83 407.14 L381.91 407.18 L383 407.2"/><path class="r" d="M270.9 402.13 L272.81 400.96 L274.71 399.59 L276.62 398 L278.52 396.18 L280.43 394.1 L282.33 391.75 L284.24 389.12 L286.14 386.2 L288.05 382.97 L289.96 379.43 L291.86 375.6 L293.77 371.47 L295.67 367.07 L297.58 362.43 L299.48 357.57 L301.39 352.53 L303.3 347.38 L305.2 342.15 L307.11 336.92 L309.01 331.75 L310.92 326.72 L312.82 321.9 L314.73 317.38 L316.63 313.22 L318.54 309.52 L320.45 306.33 L322.35 303.73 L324.26 301.78 L326.16 300.53 L328.07 300.01 L329.97 300.27 L331.88 301.3 L333.79 303.13 L335.69 305.73 L337.6 309.08 L339.5 313.14 L341.41 317.87 L343.31 323.2 L345.22 329.05 L347.12 335.35 L349.03 342.01 L350.94 348.94 L352.84 356.02 L354.75 363.16 L356.65 370.24 L358.56 377.17 L360.46 383.83 L362.37 390.09 L364.28 395.82 L366.18 400.87 L368.09 404.99 L369.99 407.62"/><path class="b" d="M270.9 406.33 L272.81 405.38 L274.71 403.97 L276.62 401.98 L278.52 399.31 L280.43 395.88 L282.33 391.66 L284.24 386.63 L286.14 380.87 L288.05 374.48 L289.96 367.61 L291.86 360.44 L293.77 353.18 L295.67 346.03 L297.58 339.18 L299.48 332.82 L301.39 327.1 L303.3 322.12 L305.2 317.98 L307.11 314.72 L309.01 312.36 L310.92 310.88 L312.82 310.24 L314.73 310.38 L316.63 311.25 L318.54 312.75 L320.45 314.81 L322.35 317.34 L324.26 320.25 L326.16 323.48 L328.07 326.93 L329.97 330.56 L331.88 334.28 L333.79 338.06 L335.69 341.85 L337.6 345.61 L339.5 349.3 L341.41 352.89 L343.31 356.38 L345.22 359.74 L347.12 362.96 L349.03 366.03 L350.94 368.95 L352.84 371.71 L354.75 374.32 L356.65 376.78 L358.56 379.08 L360.46 381.24 L362.37 383.26 L364.28 385.14 L366.18 386.89 L368.09 388.52 L369.99 390.03 L371.9 391.44 L373.8 392.73 L375.71 393.94 L377.61 395.05 L379.52 396.07 L381.43 397.02 L383.33 397.89 L385.24 398.69 L387.14 399.43 L389.05 400.12 L390.95 400.74 L392.86 401.32 L394.77 401.85 L396.67 402.34 L398.58 402.78 L400.48 403.19 L402.39 403.57 L404.29 403.92 L406.2 404.23 L408.1 404.52 L410.01 404.79 L411.92 405.04 L413.82 405.26 L415.73 405.47 L417.63 405.65 L419.54 405.83 L421.44 405.98 L423.35 406.13 L425.26 406.26 L427.16 406.38 L429.07 406.49 L430.97 406.6 L432.88 406.69 L434.78 406.78 L436.69 406.85 L438.59 406.93 L440.5 406.99"/><path class="g" d="M270.9 401.1 L272.81 399.98 L274.71 398.71 L276.62 397.28 L278.52 395.67 L280.43 393.85 L282.33 391.83 L284.24 389.57 L286.14 387.08 L288.05 384.33 L289.96 381.3 L291.86 378 L293.77 374.41 L295.67 370.53 L297.58 366.36 L299.48 361.91 L301.39 357.19 L303.3 352.22 L305.2 347.03 L307.11 341.66 L309.01 336.17 L310.92 330.61 L312.82 325.07 L314.73 319.62 L316.63 314.36 L318.54 309.42 L320.45 304.9 L322.35 300.92 L324.26 297.63 L326.16 295.13 L328.07 293.56 L329.97 293 L331.88 293.55 L333.79 295.26 L335.69 298.15 L337.6 302.21 L339.5 307.38 L341.41 313.56 L343.31 320.61 L345.22 328.33 L347.12 336.54 L349.03 344.98 L350.94 353.42 L352.84 361.64 L354.75 369.42 L356.65 376.58 L358.56 382.99 L360.46 388.57 L362.37 393.28 L364.28 397.13 L366.18 400.18 L368.09 402.52 L369.99 404.25 L371.9 405.48 L373.8 406.33 L375.71 406.89 L377.61 407.24 L379.52 407.45 L381.43 407.57 L383.33 407.64 L385.24 407.67 L387.14 407.69 L389.05 407.69 L390.95 407.7 L392.86 407.7 L394.77 407.7 L396.67 407.7 L398.58 407.7 L400.48 407.7 L402.39 407.7 L404.29 407.7 L406.2 407.7 L408.1 407.7 L410.01 407.7 L411.92 407.7 L413.82 407.7 L415.73 407.7 L417.63 407.7 L419.54 407.7 L421.44 407.7 L423.35 407.7 L425.26 407.7 L427.16 407.7 L429.07 407.7 L430.97 407.7 L432.88 407.7 L434.78 407.7 L436.69 407.7 L438.59 407.7 L440.5 407.7"/></g>
<path class="tk" d="M264.9 407.7 h-4.2M264.9 370.2 h-4.2M264.9 332.7 h-4.2M264.9 295.2 h-4.2M264.9 257.7 h-4.2"/><path class="xl" d="M267.8 413.6 H420.3"/><path class="tk" d="M268.2 413.6 v3.9M306.12 413.6 v3.9M344.05 413.6 v3.9M381.97 413.6 v3.9M419.9 413.6 v3.9"/><text class="t" text-anchor="end" transform="translate(257.6 410) rotate(0.03)">0.0</text><text class="t" text-anchor="end" transform="translate(257.6 372.5) rotate(0.03)">0.5</text><text class="t" text-anchor="end" transform="translate(257.6 335) rotate(0.03)">1.0</text><text class="t" text-anchor="end" transform="translate(257.6 297.5) rotate(0.03)">1.5</text><text class="t" text-anchor="end" transform="translate(257.6 260) rotate(0.03)">2.0</text><text class="t" text-anchor="middle" transform="translate(268.2 426.1) rotate(0.03)">1.0</text><text class="t" text-anchor="middle" transform="translate(306.12 426.1) rotate(0.03)">1.5</text><text class="t" text-anchor="middle" transform="translate(344.05 426.1) rotate(0.03)">2.0</text><text class="t" text-anchor="middle" transform="translate(381.97 426.1) rotate(0.03)">2.5</text><text class="t" text-anchor="middle" transform="translate(419.9 426.1) rotate(0.03)">3.0</text><text class="t" text-anchor="middle" transform="translate(355.35 439.3) rotate(0.03)">Wind data (m/s)</text><text class="t" text-anchor="middle" transform="translate(242.8 332.7) rotate(-89.97)">Density</text><text class="ti" text-anchor="middle" transform="translate(355.15 241.1) rotate(0.03)">May</text><rect class="lg" x="370.5" y="252" width="76.8" height="33.6"/><path fill="none" stroke="#666" stroke-width="1.7" d="M374.9 257.8 h10.5"/><text class="t" text-anchor="end" transform="translate(443.4 260.4) rotate(0.03)">Observed</text><path fill="none" stroke="#f00" stroke-width="1.0" d="M374.9 264.5 h10.5"/><text class="t" text-anchor="end" textLength="16.8" lengthAdjust="spacingAndGlyphs" transform="translate(443.4 267) rotate(0.03)">GEV fit</text><path fill="none" stroke="#00f" stroke-width="1.0" d="M374.9 271.5 h10.5"/><text class="t" text-anchor="end" transform="translate(443.4 273.6) rotate(0.03)">Gumbel fit</text><path fill="none" stroke="#6f6" stroke-width="1.8" d="M374.9 278 h10.5"/><text class="t" text-anchor="end" transform="translate(443.4 280.2) rotate(0.03)">Weibull fit</text></g>
<g><clipPath id="c6"><rect x="502.4" y="251.9" width="182.7" height="161.7"/></clipPath>
<path class="ay" d="M502.3 408.1 V257.3"/>
<g clip-path="url(#c6)" class="bar"><rect x="503.98" y="401.55" width="13.42" height="6.15"/><rect x="517.4" y="383.11" width="13.42" height="24.59"/><rect x="530.82" y="352.37" width="13.42" height="55.33"/><rect x="544.24" y="303.19" width="13.42" height="104.51"/><rect x="557.66" y="303.19" width="13.42" height="104.51"/><rect x="571.08" y="352.37" width="13.42" height="55.33"/><rect x="584.5" y="389.26" width="13.42" height="18.44"/><rect x="597.92" y="401.55" width="13.42" height="6.15"/></g>
<g clip-path="url(#c6)" class="cv"><path class="k" d="M502.6 403 L503.74 402.3 L504.88 401.73 L506.02 401.4 L507.17 401.25 L508.31 401.17 L509.45 401.07 L510.59 400.91 L511.73 400.71 L512.87 400.42 L514.01 399.99 L515.15 398.68 L516.3 396.44 L517.44 394.11 L518.58 391.52 L519.72 388.7 L520.86 385.79 L522 382.72 L523.14 379.61 L524.28 376.53 L525.43 373.42 L526.57 370.23 L527.71 366.89 L528.85 363.32 L529.99 359.81 L531.13 356.66 L532.27 353.91 L533.41 351.37 L534.56 348.94 L535.7 346.58 L536.84 344.4 L537.98 342.19 L539.12 339.72 L540.26 336.92 L541.4 333.79 L542.54 330.2 L543.69 325.93 L544.83 321.61 L545.97 317.5 L547.11 313.52 L548.25 310.4 L549.39 307.86 L550.53 305.92 L551.68 304.8 L552.82 303.96 L553.96 303.6 L555.1 303.67 L556.24 303.85 L557.38 304.09 L558.52 304.54 L559.66 305.18 L560.81 306.09 L561.95 307.48 L563.09 309.13 L564.23 311.05 L565.37 313.31 L566.51 315.85 L567.65 318.69 L568.79 322.06 L569.94 325.68 L571.08 329.23 L572.22 332.77 L573.36 336.32 L574.5 339.67 L575.64 342.59 L576.78 345.17 L577.92 347.62 L579.07 350.15 L580.21 352.68 L581.35 355.31 L582.49 358.41 L583.63 362.11 L584.77 366.17 L585.91 370.53 L587.06 375.22 L588.2 379.76 L589.34 384.21 L590.48 388.36 L591.62 391.78 L592.76 394.74 L593.9 397.21 L595.04 399.3 L596.19 401.07 L597.33 402.31 L598.47 403.32 L599.61 403.95 L600.75 404 L601.89 404 L603.03 404 L604.17 403.75 L605.32 403.2 L606.46 402.61 L607.6 402.19 L608.74 401.77 L609.88 401.47 L611.02 401.45 L612.16 401.92 L613.3 402.61 L614.45 403.22 L615.59 403.82 L616.73 404.41 L617.87 404.95 L619.01 405.42 L620.15 405.87 L621.29 406.24 L622.43 406.48 L623.58 406.68 L624.72 406.84 L625.86 406.96 L627 407"/><path class="r" d="M508.7 403.5 L510.61 402.14 L512.51 400.44 L514.42 398.37 L516.32 395.88 L518.23 392.93 L520.13 389.5 L522.04 385.57 L523.94 381.14 L525.85 376.23 L527.76 370.87 L529.66 365.12 L531.57 359.06 L533.47 352.78 L535.38 346.39 L537.28 340.02 L539.19 333.78 L541.1 327.83 L543 322.28 L544.91 317.27 L546.81 312.92 L548.72 309.31 L550.62 306.54 L552.53 304.67 L554.43 303.72 L556.34 303.71 L558.25 304.64 L560.15 306.45 L562.06 309.11 L563.96 312.54 L565.87 316.65 L567.77 321.34 L569.68 326.52 L571.59 332.08 L573.49 337.9 L575.4 343.88 L577.3 349.91 L579.21 355.92 L581.11 361.8 L583.02 367.48 L584.92 372.91 L586.83 378.01 L588.74 382.75 L590.64 387.1 L592.55 391.03 L594.45 394.52 L596.36 397.57 L598.26 400.19 L600.17 402.37 L602.08 404.14 L603.98 405.51 L605.89 406.51 L607.79 407.18 L609.7 407.56"/><path class="b" d="M508.7 407.35 L510.61 406.94 L512.51 406.19 L514.42 404.94 L516.32 402.98 L518.23 400.14 L520.13 396.25 L522.04 391.23 L523.94 385.08 L525.85 377.89 L527.76 369.87 L529.66 361.29 L531.57 352.48 L533.47 343.77 L535.38 335.49 L537.28 327.95 L539.19 321.37 L541.1 315.92 L543 311.71 L544.91 308.78 L546.81 307.1 L548.72 306.6 L550.62 307.19 L552.53 308.75 L554.43 311.12 L556.34 314.18 L558.25 317.79 L560.15 321.8 L562.06 326.11 L563.96 330.61 L565.87 335.2 L567.77 339.8 L569.68 344.35 L571.59 348.8 L573.49 353.1 L575.4 357.23 L577.3 361.17 L579.21 364.89 L581.11 368.4 L583.02 371.69 L584.92 374.75 L586.83 377.6 L588.74 380.24 L590.64 382.68 L592.55 384.93 L594.45 386.99 L596.36 388.89 L598.26 390.62 L600.17 392.21 L602.08 393.66 L603.98 394.98 L605.89 396.18 L607.79 397.27 L609.7 398.27 L611.6 399.17 L613.51 399.99 L615.41 400.73 L617.32 401.4 L619.23 402.01 L621.13 402.56 L623.04 403.06 L624.94 403.51 L626.85 403.92 L628.75 404.29 L630.66 404.62 L632.57 404.92 L634.47 405.2 L636.38 405.44 L638.28 405.66 L640.19 405.86 L642.09 406.04 L644 406.21 L645.9 406.35 L647.81 406.49 L649.72 406.61 L651.62 406.71 L653.53 406.81 L655.43 406.9 L657.34 406.98 L659.24 407.05 L661.15 407.11 L663.06 407.17 L664.96 407.22 L666.87 407.27 L668.77 407.31 L670.68 407.35 L672.58 407.39 L674.49 407.42"/><path class="g" d="M508.7 399.99 L510.61 398.61 L512.51 397.03 L514.42 395.25 L516.32 393.25 L518.23 391.02 L520.13 388.54 L522.04 385.81 L523.94 382.8 L525.85 379.53 L527.76 375.97 L529.66 372.14 L531.57 368.05 L533.47 363.7 L535.38 359.13 L537.28 354.35 L539.19 349.41 L541.1 344.36 L543 339.27 L544.91 334.19 L546.81 329.23 L548.72 324.45 L550.62 319.98 L552.53 315.91 L554.43 312.35 L556.34 309.42 L558.25 307.22 L560.15 305.85 L562.06 305.4 L563.96 305.93 L565.87 307.48 L567.77 310.06 L569.68 313.65 L571.59 318.19 L573.49 323.59 L575.4 329.73 L577.3 336.44 L579.21 343.55 L581.11 350.87 L583.02 358.19 L584.92 365.34 L586.83 372.13 L588.74 378.43 L590.64 384.11 L592.55 389.11 L594.45 393.39 L596.36 396.96 L598.26 399.84 L600.17 402.11 L602.08 403.83 L603.98 405.11 L605.89 406.02 L607.79 406.64 L609.7 407.06 L611.6 407.33 L613.51 407.49 L615.41 407.59 L617.32 407.64 L619.23 407.67 L621.13 407.69 L623.04 407.69 L624.94 407.7 L626.85 407.7 L628.75 407.7 L630.66 407.7 L632.57 407.7 L634.47 407.7 L636.38 407.7 L638.28 407.7 L640.19 407.7 L642.09 407.7 L644 407.7 L645.9 407.7 L647.81 407.7 L649.72 407.7 L651.62 407.7 L653.53 407.7 L655.43 407.7 L657.34 407.7 L659.24 407.7 L661.15 407.7 L663.06 407.7 L664.96 407.7 L666.87 407.7 L668.77 407.7 L670.68 407.7 L672.58 407.7 L674.49 407.7 L676.39 407.7 L678.3 407.7"/></g>
<path class="tk" d="M502.7 407.7 h-4.2M502.7 370.2 h-4.2M502.7 332.7 h-4.2M502.7 295.2 h-4.2M502.7 257.7 h-4.2"/><path class="xl" d="M517 413.6 H652"/><path class="tk" d="M517.4 413.6 v3.9M550.95 413.6 v3.9M584.5 413.6 v3.9M618.05 413.6 v3.9M651.6 413.6 v3.9"/><text class="t" text-anchor="end" transform="translate(495.4 410) rotate(0.03)">0.0</text><text class="t" text-anchor="end" transform="translate(495.4 372.5) rotate(0.03)">0.5</text><text class="t" text-anchor="end" transform="translate(495.4 335) rotate(0.03)">1.0</text><text class="t" text-anchor="end" transform="translate(495.4 297.5) rotate(0.03)">1.5</text><text class="t" text-anchor="end" transform="translate(495.4 260) rotate(0.03)">2.0</text><text class="t" text-anchor="middle" transform="translate(517.4 426.1) rotate(0.03)">1.0</text><text class="t" text-anchor="middle" transform="translate(550.95 426.1) rotate(0.03)">1.5</text><text class="t" text-anchor="middle" transform="translate(584.5 426.1) rotate(0.03)">2.0</text><text class="t" text-anchor="middle" transform="translate(618.05 426.1) rotate(0.03)">2.5</text><text class="t" text-anchor="middle" transform="translate(651.6 426.1) rotate(0.03)">3.0</text><text class="t" text-anchor="middle" transform="translate(593.15 439.3) rotate(0.03)">Wind data (m/s)</text><text class="t" text-anchor="middle" transform="translate(480.6 332.7) rotate(-89.97)">Density</text><text class="ti" text-anchor="middle" transform="translate(592.95 241.1) rotate(0.03)">June</text><rect class="lg" x="608.3" y="252" width="76.8" height="33.6"/><path fill="none" stroke="#666" stroke-width="1.7" d="M612.7 257.8 h10.5"/><text class="t" text-anchor="end" transform="translate(681.2 260.4) rotate(0.03)">Observed</text><path fill="none" stroke="#f00" stroke-width="1.0" d="M612.7 264.5 h10.5"/><text class="t" text-anchor="end" textLength="16.8" lengthAdjust="spacingAndGlyphs" transform="translate(681.2 267) rotate(0.03)">GEV fit</text><path fill="none" stroke="#00f" stroke-width="1.0" d="M612.7 271.5 h10.5"/><text class="t" text-anchor="end" transform="translate(681.2 273.6) rotate(0.03)">Gumbel fit</text><path fill="none" stroke="#6f6" stroke-width="1.8" d="M612.7 278 h10.5"/><text class="t" text-anchor="end" transform="translate(681.2 280.2) rotate(0.03)">Weibull fit</text></g>
<g><clipPath id="c7"><rect x="27.1" y="484.1" width="182.7" height="161.7"/></clipPath>
<path class="ay" d="M27 640.3 V489.5"/>
<g clip-path="url(#c7)" class="bar"><rect x="20.48" y="621.46" width="16.92" height="18.44"/><rect x="37.4" y="609.16" width="16.92" height="30.74"/><rect x="54.32" y="547.69" width="16.92" height="92.21"/><rect x="71.24" y="535.39" width="16.92" height="104.51"/><rect x="88.16" y="559.98" width="16.92" height="79.92"/><rect x="105.08" y="590.72" width="16.92" height="49.18"/></g>
<g clip-path="url(#c7)" class="cv"><path class="k" d="M27 627.6 L28.05 625.22 L29.1 622.91 L30.15 620.68 L31.21 618.5 L32.26 616.4 L33.31 614.44 L34.36 612.53 L35.41 610.81 L36.46 609.45 L37.51 608.35 L38.57 607.39 L39.62 606.48 L40.67 605.68 L41.72 604.85 L42.77 603.87 L43.82 602.79 L44.87 601.56 L45.92 600.11 L46.98 598.42 L48.03 596.55 L49.08 594.43 L50.13 592.07 L51.18 589.56 L52.23 586.91 L53.28 584.06 L54.34 580.98 L55.39 577.52 L56.44 573.9 L57.49 570.37 L58.54 566.86 L59.59 563.36 L60.64 559.83 L61.7 556.28 L62.75 552.81 L63.8 549.46 L64.85 546.19 L65.9 543.25 L66.95 540.71 L68 538.42 L69.06 536.51 L70.11 534.83 L71.16 533.4 L72.21 532.49 L73.26 531.85 L74.31 531.34 L75.36 531.04 L76.41 531.07 L77.47 531.57 L78.52 532.41 L79.57 533.41 L80.62 534.92 L81.67 537.03 L82.72 539.26 L83.77 541.64 L84.83 544.18 L85.88 546.64 L86.93 549.12 L87.98 551.44 L89.03 553.31 L90.08 554.87 L91.13 556.26 L92.19 557.52 L93.24 558.7 L94.29 559.77 L95.34 560.78 L96.39 561.79 L97.44 562.81 L98.49 563.8 L99.54 564.83 L100.6 566 L101.65 567.32 L102.7 568.81 L103.75 570.49 L104.8 572.39 L105.85 574.7 L106.9 577.37 L107.96 580.23 L109.01 583.13 L110.06 586.22 L111.11 589.44 L112.16 592.67 L113.21 595.84 L114.26 598.99 L115.32 602.15 L116.37 605.3 L117.42 608.51 L118.47 611.81 L119.52 615.01 L120.57 617.93 L121.62 620.57 L122.68 623.06 L123.73 625.32 L124.78 627.32 L125.83 629.12 L126.88 630.76 L127.93 632.2 L128.98 633.43 L130.03 634.52 L131.09 635.49 L132.14 636.3 L133.19 636.94 L134.24 637.51 L135.29 637.98 L136.34 638.33 L137.39 638.59 L138.45 638.82 L139.5 639.02 L140.55 639.15 L141.6 639.2"/><path class="r" d="M33.4 625.42 L35.31 623.07 L37.21 620.45 L39.12 617.55 L41.02 614.37 L42.93 610.89 L44.83 607.13 L46.74 603.1 L48.64 598.79 L50.55 594.25 L52.46 589.48 L54.36 584.53 L56.27 579.43 L58.17 574.24 L60.08 569 L61.98 563.77 L63.89 558.62 L65.8 553.61 L67.7 548.81 L69.61 544.3 L71.51 540.13 L73.42 536.39 L75.32 533.13 L77.23 530.43 L79.13 528.32 L81.04 526.87 L82.95 526.11 L84.85 526.07 L86.76 526.78 L88.66 528.23 L90.57 530.42 L92.47 533.35 L94.38 536.98 L96.29 541.27 L98.19 546.19 L100.1 551.66 L102 557.62 L103.91 564 L105.81 570.71 L107.72 577.68 L109.62 584.8 L111.53 591.99 L113.44 599.14 L115.34 606.16 L117.25 612.95 L119.15 619.39 L121.06 625.37 L122.96 630.76 L124.87 635.36 L126.78 638.84 L128.68 639.9"/><path class="b" d="M33.4 630.8 L35.31 626.96 L37.21 622.19 L39.12 616.5 L41.02 609.94 L42.93 602.63 L44.83 594.77 L46.74 586.55 L48.64 578.22 L50.55 570.01 L52.46 562.17 L54.36 554.9 L56.27 548.37 L58.17 542.72 L60.08 538.05 L61.98 534.4 L63.89 531.8 L65.8 530.22 L67.7 529.61 L69.61 529.91 L71.51 531.03 L73.42 532.88 L75.32 535.35 L77.23 538.35 L79.13 541.78 L81.04 545.55 L82.95 549.57 L84.85 553.77 L86.76 558.07 L88.66 562.41 L90.57 566.75 L92.47 571.04 L94.38 575.24 L96.29 579.33 L98.19 583.28 L100.1 587.07 L102 590.7 L103.91 594.15 L105.81 597.43 L107.72 600.52 L109.62 603.43 L111.53 606.17 L113.44 608.73 L115.34 611.13 L117.25 613.36 L119.15 615.44 L121.06 617.38 L122.96 619.17 L124.87 620.84 L126.78 622.37 L128.68 623.8 L130.59 625.11 L132.49 626.33 L134.4 627.44 L136.3 628.47 L138.21 629.42 L140.11 630.29 L142.02 631.1 L143.93 631.83 L145.83 632.51 L147.74 633.13 L149.64 633.7 L151.55 634.23 L153.45 634.71 L155.36 635.15 L157.27 635.55 L159.17 635.92 L161.08 636.26 L162.98 636.57 L164.89 636.85 L166.79 637.11 L168.7 637.35 L170.6 637.57 L172.51 637.77 L174.42 637.95 L176.32 638.12 L178.23 638.27 L180.13 638.41 L182.04 638.54 L183.94 638.65 L185.85 638.76 L187.76 638.86 L189.66 638.95 L191.57 639.03 L193.47 639.1 L195.38 639.17 L197.28 639.24 L199.19 639.29 L201.09 639.34 L203 639.39"/><path class="g" d="M33.4 623.36 L35.31 621.22 L37.21 618.86 L39.12 616.28 L41.02 613.48 L42.93 610.43 L44.83 607.13 L46.74 603.58 L48.64 599.79 L50.55 595.74 L52.46 591.45 L54.36 586.94 L56.27 582.21 L58.17 577.31 L60.08 572.25 L61.98 567.08 L63.89 561.85 L65.8 556.62 L67.7 551.46 L69.61 546.43 L71.51 541.64 L73.42 537.16 L75.32 533.09 L77.23 529.54 L79.13 526.6 L81.04 524.37 L82.95 522.94 L84.85 522.4 L86.76 522.81 L88.66 524.22 L90.57 526.65 L92.47 530.09 L94.38 534.52 L96.29 539.86 L98.19 546.03 L100.1 552.88 L102 560.28 L103.91 568.04 L105.81 575.99 L107.72 583.93 L109.62 591.68 L111.53 599.08 L113.44 605.97 L115.34 612.24 L117.25 617.81 L119.15 622.64 L121.06 626.72 L122.96 630.08 L124.87 632.77 L126.78 634.86 L128.68 636.44 L130.59 637.59 L132.49 638.41 L134.4 638.97 L136.3 639.34 L138.21 639.58 L140.11 639.72 L142.02 639.8 L143.93 639.85 L145.83 639.88 L147.74 639.89 L149.64 639.89 L151.55 639.9 L153.45 639.9 L155.36 639.9 L157.27 639.9 L159.17 639.9 L161.08 639.9 L162.98 639.9 L164.89 639.9 L166.79 639.9 L168.7 639.9 L170.6 639.9 L172.51 639.9 L174.42 639.9 L176.32 639.9 L178.23 639.9 L180.13 639.9 L182.04 639.9 L183.94 639.9 L185.85 639.9 L187.76 639.9 L189.66 639.9 L191.57 639.9 L193.47 639.9 L195.38 639.9 L197.28 639.9 L199.19 639.9 L201.09 639.9 L203 639.9"/></g>
<path class="tk" d="M27.4 639.9 h-4.2M27.4 602.4 h-4.2M27.4 564.9 h-4.2M27.4 527.4 h-4.2M27.4 489.9 h-4.2"/><path class="xl" d="M62.38 645.8 H190.08"/><path class="tk" d="M62.78 645.8 v3.9M105.08 645.8 v3.9M147.38 645.8 v3.9M189.68 645.8 v3.9"/><text class="t" text-anchor="end" transform="translate(20.1 642.2) rotate(0.03)">0.0</text><text class="t" text-anchor="end" transform="translate(20.1 604.7) rotate(0.03)">0.5</text><text class="t" text-anchor="end" transform="translate(20.1 567.2) rotate(0.03)">1.0</text><text class="t" text-anchor="end" transform="translate(20.1 529.7) rotate(0.03)">1.5</text><text class="t" text-anchor="end" transform="translate(20.1 492.2) rotate(0.03)">2.0</text><text class="t" text-anchor="middle" transform="translate(62.78 658.3) rotate(0.03)">1.5</text><text class="t" text-anchor="middle" transform="translate(105.08 658.3) rotate(0.03)">2.0</text><text class="t" text-anchor="middle" transform="translate(147.38 658.3) rotate(0.03)">2.5</text><text class="t" text-anchor="middle" transform="translate(189.68 658.3) rotate(0.03)">3.0</text><text class="t" text-anchor="middle" transform="translate(117.85 671.5) rotate(0.03)">Wind data (m/s)</text><text class="t" text-anchor="middle" transform="translate(5.3 564.9) rotate(-89.97)">Density</text><text class="ti" text-anchor="middle" transform="translate(117.65 473.3) rotate(0.03)">July</text><rect class="lg" x="133" y="484.2" width="76.8" height="33.6"/><path fill="none" stroke="#111" stroke-width="1.0" d="M137.4 490.45 h10.5"/><text class="t" text-anchor="end" transform="translate(205.9 492.6) rotate(0.03)">Observed</text><path fill="none" stroke="#f33" stroke-width="1.25" d="M137.4 496.7 h10.5"/><text class="t" text-anchor="end" textLength="16.8" lengthAdjust="spacingAndGlyphs" transform="translate(205.9 499.2) rotate(0.03)">GEV fit</text><path fill="none" stroke="#33f" stroke-width="1.25" d="M137.4 503.7 h10.5"/><text class="t" text-anchor="end" transform="translate(205.9 505.8) rotate(0.03)">Gumbel fit</text><path fill="none" stroke="#0f0" stroke-width="1.0" d="M137.4 510.45 h10.5"/><text class="t" text-anchor="end" transform="translate(205.9 512.4) rotate(0.03)">Weibull fit</text></g>
<g><clipPath id="c8"><rect x="264.6" y="484.1" width="182.7" height="161.7"/></clipPath>
<path class="ay" d="M264.5 640.3 V489.5"/>
<g clip-path="url(#c8)" class="bar"><rect x="259.18" y="634.98" width="15.02" height="4.92"/><rect x="274.2" y="605.47" width="15.02" height="34.43"/><rect x="289.22" y="585.8" width="15.02" height="54.1"/><rect x="304.24" y="502.2" width="15.02" height="137.7"/><rect x="319.26" y="605.47" width="15.02" height="34.43"/><rect x="334.28" y="620.23" width="15.02" height="19.67"/><rect x="349.3" y="630.06" width="15.02" height="9.84"/><rect x="364.32" y="634.98" width="15.02" height="4.92"/></g>
<g clip-path="url(#c8)" class="cv"><path class="k" d="M264.6 635 L265.65 633.24 L266.7 631.39 L267.75 629.47 L268.8 627.48 L269.85 625.41 L270.9 623.22 L271.95 620.79 L273 618.21 L274.05 615.91 L275.1 614 L276.14 612.3 L277.19 610.72 L278.24 609.32 L279.29 607.98 L280.34 606.48 L281.39 604.81 L282.44 603 L283.49 601.07 L284.54 598.91 L285.59 596.77 L286.64 594.87 L287.69 593.13 L288.74 591.43 L289.79 589.66 L290.84 587.85 L291.89 586.17 L292.94 584.71 L293.99 583.38 L295.04 581.95 L296.09 580.34 L297.14 578.59 L298.19 576.64 L299.23 574.45 L300.28 571.96 L301.33 568.99 L302.38 565.33 L303.43 560.85 L304.48 554.81 L305.53 548.2 L306.58 541.75 L307.63 535.74 L308.68 530.2 L309.73 525.71 L310.78 522.01 L311.83 519.94 L312.88 518.6 L313.93 518 L314.98 518.53 L316.03 519.99 L317.08 522.24 L318.13 526.7 L319.18 532.01 L320.23 538.47 L321.28 546.06 L322.32 554.76 L323.37 563.29 L324.42 571.67 L325.47 579.42 L326.52 586.52 L327.57 592.65 L328.62 598.11 L329.67 603.26 L330.72 607.39 L331.77 610.41 L332.82 612.69 L333.87 614.28 L334.92 615.52 L335.97 616.57 L337.02 617.49 L338.07 618.29 L339.12 619.09 L340.17 619.92 L341.22 620.76 L342.27 621.63 L343.32 622.56 L344.37 623.49 L345.41 624.31 L346.46 625.09 L347.51 625.76 L348.56 626.26 L349.61 626.71 L350.66 626.98 L351.71 626.97 L352.76 626.86 L353.81 626.72 L354.86 626.61 L355.91 626.54 L356.96 626.47 L358.01 626.42 L359.06 626.4 L360.11 626.71 L361.16 627.39 L362.21 628.15 L363.26 629.13 L364.31 630.27 L365.36 631.36 L366.41 632.44 L367.46 633.5 L368.5 634.45 L369.55 635.36 L370.6 636.15 L371.65 636.77 L372.7 637.29 L373.75 637.75 L374.8 638.14 L375.85 638.46 L376.9 638.76 L377.95 639.01 L379 639.2"/><path class="r" d="M270.9 630.47 L272.81 627.56 L274.71 624.08 L276.62 620.03 L278.52 615.41 L280.43 610.25 L282.33 604.64 L284.24 598.67 L286.14 592.45 L288.05 586.12 L289.96 579.84 L291.86 573.75 L293.77 568.02 L295.67 562.79 L297.58 558.19 L299.48 554.32 L301.39 551.26 L303.3 549.08 L305.2 547.79 L307.11 547.4 L309.01 547.88 L310.92 549.18 L312.82 551.23 L314.73 553.96 L316.63 557.27 L318.54 561.07 L320.45 565.26 L322.35 569.74 L324.26 574.42 L326.16 579.21 L328.07 584.03 L329.97 588.82 L331.88 593.5 L333.79 598.04 L335.69 602.38 L337.6 606.49 L339.5 610.36 L341.41 613.96 L343.31 617.28 L345.22 620.32 L347.12 623.08 L349.03 625.57 L350.94 627.8 L352.84 629.77 L354.75 631.51 L356.65 633.02 L358.56 634.32 L360.46 635.44 L362.37 636.38 L364.28 637.17 L366.18 637.82 L368.09 638.35 L369.99 638.77 L371.9 639.1 L373.8 639.35 L375.71 639.54 L377.61 639.67"/><path class="b" d="M270.9 635.43 L272.81 632.64 L274.71 628.81 L276.62 623.84 L278.52 617.76 L280.43 610.69 L282.33 602.85 L284.24 594.52 L286.14 586.06 L288.05 577.81 L289.96 570.11 L291.86 563.23 L293.77 557.39 L295.67 552.74 L297.58 549.33 L299.48 547.19 L301.39 546.26 L303.3 546.44 L305.2 547.63 L307.11 549.69 L309.01 552.46 L310.92 555.8 L312.82 559.59 L314.73 563.68 L316.63 567.98 L318.54 572.37 L320.45 576.79 L322.35 581.16 L324.26 585.42 L326.16 589.54 L328.07 593.49 L329.97 597.25 L331.88 600.79 L333.79 604.11 L335.69 607.22 L337.6 610.11 L339.5 612.78 L341.41 615.25 L343.31 617.52 L345.22 619.61 L347.12 621.52 L349.03 623.26 L350.94 624.85 L352.84 626.3 L354.75 627.62 L356.65 628.82 L358.56 629.9 L360.46 630.89 L362.37 631.78 L364.28 632.58 L366.18 633.31 L368.09 633.97 L369.99 634.56 L371.9 635.09 L373.8 635.58 L375.71 636.01 L377.61 636.4 L379.52 636.76 L381.43 637.07 L383.33 637.36 L385.24 637.62 L387.14 637.85 L389.05 638.06 L390.95 638.24 L392.86 638.41 L394.77 638.56 L396.67 638.7 L398.58 638.82 L400.48 638.93 L402.39 639.03 L404.29 639.12 L406.2 639.2 L408.1 639.27 L410.01 639.33 L411.92 639.39 L413.82 639.44 L415.73 639.49 L417.63 639.53 L419.54 639.57 L421.44 639.6"/><path class="g" d="M270.9 622.12 L272.81 620.05 L274.71 617.82 L276.62 615.41 L278.52 612.83 L280.43 610.07 L282.33 607.15 L284.24 604.07 L286.14 600.83 L288.05 597.47 L289.96 593.99 L291.86 590.42 L293.77 586.8 L295.67 583.15 L297.58 579.53 L299.48 575.99 L301.39 572.57 L303.3 569.34 L305.2 566.35 L307.11 563.69 L309.01 561.41 L310.92 559.59 L312.82 558.28 L314.73 557.54 L316.63 557.44 L318.54 557.99 L320.45 559.24 L322.35 561.19 L324.26 563.82 L326.16 567.11 L328.07 571.01 L329.97 575.43 L331.88 580.3 L333.79 585.5 L335.69 590.92 L337.6 596.42 L339.5 601.89 L341.41 607.2 L343.31 612.24 L345.22 616.92 L347.12 621.17 L349.03 624.93 L350.94 628.19 L352.84 630.95 L354.75 633.21 L356.65 635.02 L358.56 636.44 L360.46 637.51 L362.37 638.3 L364.28 638.86 L366.18 639.24 L368.09 639.5 L369.99 639.67 L371.9 639.77 L373.8 639.83 L375.71 639.86 L377.61 639.88 L379.52 639.89 L381.43 639.9 L383.33 639.9 L385.24 639.9 L387.14 639.9 L389.05 639.9 L390.95 639.9 L392.86 639.9 L394.77 639.9 L396.67 639.9 L398.58 639.9 L400.48 639.9 L402.39 639.9 L404.29 639.9 L406.2 639.9 L408.1 639.9 L410.01 639.9 L411.92 639.9 L413.82 639.9 L415.73 639.9 L417.63 639.9 L419.54 639.9 L421.44 639.9 L423.35 639.9 L425.26 639.9 L427.16 639.9 L429.07 639.9 L430.97 639.9 L432.88 639.9 L434.78 639.9 L436.69 639.9 L438.59 639.9 L440.5 639.9"/></g>
<path class="tk" d="M264.9 639.9 h-4.2M264.9 609.9 h-4.2M264.9 579.9 h-4.2M264.9 549.9 h-4.2M264.9 519.9 h-4.2M264.9 489.9 h-4.2"/><path class="xl" d="M281.31 645.8 H432.31"/><path class="tk" d="M281.71 645.8 v3.9M319.26 645.8 v3.9M356.81 645.8 v3.9M394.36 645.8 v3.9M431.91 645.8 v3.9"/><text class="t" text-anchor="end" transform="translate(257.6 642.2) rotate(0.03)">0.0</text><text class="t" text-anchor="end" transform="translate(257.6 612.2) rotate(0.03)">0.5</text><text class="t" text-anchor="end" transform="translate(257.6 582.2) rotate(0.03)">1.0</text><text class="t" text-anchor="end" transform="translate(257.6 552.2) rotate(0.03)">1.5</text><text class="t" text-anchor="end" transform="translate(257.6 522.2) rotate(0.03)">2.0</text><text class="t" text-anchor="end" transform="translate(257.6 492.2) rotate(0.03)">2.5</text><text class="t" text-anchor="middle" transform="translate(281.71 658.3) rotate(0.03)">1.5</text><text class="t" text-anchor="middle" transform="translate(319.26 658.3) rotate(0.03)">2.0</text><text class="t" text-anchor="middle" transform="translate(356.81 658.3) rotate(0.03)">2.5</text><text class="t" text-anchor="middle" transform="translate(394.36 658.3) rotate(0.03)">3.0</text><text class="t" text-anchor="middle" transform="translate(431.91 658.3) rotate(0.03)">3.5</text><text class="t" text-anchor="middle" transform="translate(355.35 671.5) rotate(0.03)">Wind data (m/s)</text><text class="t" text-anchor="middle" transform="translate(242.8 564.9) rotate(-89.97)">Density</text><text class="ti" text-anchor="middle" transform="translate(355.15 473.3) rotate(0.03)">August</text><rect class="lg" x="370.5" y="484.2" width="76.8" height="33.6"/><path fill="none" stroke="#111" stroke-width="1.0" d="M374.9 490.45 h10.5"/><text class="t" text-anchor="end" transform="translate(443.4 492.6) rotate(0.03)">Observed</text><path fill="none" stroke="#f33" stroke-width="1.25" d="M374.9 496.7 h10.5"/><text class="t" text-anchor="end" textLength="16.8" lengthAdjust="spacingAndGlyphs" transform="translate(443.4 499.2) rotate(0.03)">GEV fit</text><path fill="none" stroke="#33f" stroke-width="1.25" d="M374.9 503.7 h10.5"/><text class="t" text-anchor="end" transform="translate(443.4 505.8) rotate(0.03)">Gumbel fit</text><path fill="none" stroke="#0f0" stroke-width="1.0" d="M374.9 510.45 h10.5"/><text class="t" text-anchor="end" transform="translate(443.4 512.4) rotate(0.03)">Weibull fit</text></g>
<g><clipPath id="c9"><rect x="502.4" y="484.1" width="182.7" height="161.7"/></clipPath>
<path class="ay" d="M502.3 640.3 V489.5"/>
<g clip-path="url(#c9)" class="bar"><rect x="495.8" y="627.6" width="16.2" height="12.3"/><rect x="512" y="627.6" width="16.2" height="12.3"/><rect x="528.2" y="547.69" width="16.2" height="92.21"/><rect x="544.4" y="541.54" width="16.2" height="98.36"/><rect x="560.6" y="566.13" width="16.2" height="73.77"/><rect x="576.8" y="559.98" width="16.2" height="79.92"/><rect x="593" y="633.75" width="16.2" height="6.15"/></g>
<g clip-path="url(#c9)" class="cv"><path class="k" d="M502.7 631.4 L503.72 629.72 L504.74 628.12 L505.76 626.62 L506.78 625.18 L507.81 623.83 L508.83 622.63 L509.85 621.53 L510.87 620.54 L511.89 619.7 L512.91 619.01 L513.93 618.37 L514.95 617.71 L515.97 617.1 L517 616.41 L518.02 615.5 L519.04 614.25 L520.06 612.73 L521.08 610.92 L522.1 608.65 L523.12 606.03 L524.14 603.12 L525.16 599.77 L526.19 596.14 L527.21 592.32 L528.23 588.2 L529.25 584.01 L530.27 579.84 L531.29 575.59 L532.31 571.66 L533.33 568.21 L534.35 565.06 L535.38 562.3 L536.4 559.96 L537.42 557.89 L538.44 556.1 L539.46 554.51 L540.48 553.1 L541.5 552 L542.52 551.16 L543.54 550.46 L544.57 549.86 L545.59 549.36 L546.61 548.92 L547.63 548.54 L548.65 548.21 L549.67 547.96 L550.69 547.74 L551.71 547.54 L552.73 547.42 L553.76 547.4 L554.78 547.4 L555.8 547.4 L556.82 547.4 L557.84 547.52 L558.86 547.88 L559.88 548.35 L560.9 548.93 L561.92 549.68 L562.94 550.37 L563.97 550.94 L564.99 551.48 L566.01 551.93 L567.03 552.2 L568.05 552.36 L569.07 552.49 L570.09 552.57 L571.11 552.6 L572.13 552.56 L573.16 552.49 L574.18 552.42 L575.2 552.41 L576.22 552.73 L577.24 553.39 L578.26 554.26 L579.28 555.89 L580.3 558.22 L581.32 560.9 L582.35 564.39 L583.37 568.44 L584.39 572.57 L585.41 576.91 L586.43 581.44 L587.45 586.06 L588.47 590.87 L589.49 595.68 L590.51 600.31 L591.54 604.85 L592.56 609.21 L593.58 613.3 L594.6 617.26 L595.62 620.83 L596.64 623.84 L597.66 626.5 L598.68 628.78 L599.7 630.68 L600.73 632.34 L601.75 633.71 L602.77 634.81 L603.79 635.73 L604.81 636.48 L605.83 637.08 L606.85 637.61 L607.87 638.05 L608.89 638.37 L609.92 638.62 L610.94 638.84 L611.96 639.03 L612.98 639.15 L614 639.2"/><path class="r" d="M508.7 629.33 L510.61 627.46 L512.51 625.35 L514.42 622.97 L516.32 620.33 L518.23 617.39 L520.13 614.16 L522.04 610.64 L523.94 606.82 L525.85 602.72 L527.76 598.35 L529.66 593.73 L531.57 588.89 L533.47 583.86 L535.38 578.69 L537.28 573.43 L539.19 568.12 L541.1 562.84 L543 557.65 L544.91 552.63 L546.81 547.84 L548.72 543.37 L550.62 539.29 L552.53 535.67 L554.43 532.58 L556.34 530.1 L558.25 528.28 L560.15 527.16 L562.06 526.8 L563.96 527.22 L565.87 528.44 L567.77 530.46 L569.68 533.27 L571.59 536.87 L573.49 541.2 L575.4 546.23 L577.3 551.9 L579.21 558.13 L581.11 564.85 L583.02 571.96 L584.92 579.38 L586.83 586.99 L588.74 594.7 L590.64 602.37 L592.55 609.9 L594.45 617.16 L596.36 623.99 L598.26 630.23 L600.17 635.6 L602.08 639.53 L603.98 639.9"/><path class="b" d="M508.7 635.61 L510.61 633.27 L512.51 630.11 L514.42 626.05 L516.32 621.05 L518.23 615.12 L520.13 608.35 L522.04 600.89 L523.94 592.93 L525.85 584.71 L527.76 576.46 L529.66 568.45 L531.57 560.89 L533.47 553.99 L535.38 547.92 L537.28 542.78 L539.19 538.66 L541.1 535.59 L543 533.57 L544.91 532.55 L546.81 532.48 L548.72 533.28 L550.62 534.84 L552.53 537.08 L554.43 539.89 L556.34 543.16 L558.25 546.81 L560.15 550.73 L562.06 554.85 L563.96 559.1 L565.87 563.4 L567.77 567.71 L569.68 571.98 L571.59 576.17 L573.49 580.24 L575.4 584.18 L577.3 587.97 L579.21 591.59 L581.11 595.03 L583.02 598.29 L584.92 601.37 L586.83 604.27 L588.74 606.99 L590.64 609.53 L592.55 611.91 L594.45 614.12 L596.36 616.18 L598.26 618.09 L600.17 619.85 L602.08 621.49 L603.98 623 L605.89 624.4 L607.79 625.69 L609.7 626.88 L611.6 627.97 L613.51 628.97 L615.41 629.9 L617.32 630.74 L619.23 631.52 L621.13 632.24 L623.04 632.89 L624.94 633.49 L626.85 634.04 L628.75 634.54 L630.66 635 L632.57 635.43 L634.47 635.81 L636.38 636.17 L638.28 636.49 L640.19 636.79 L642.09 637.06 L644 637.3 L645.9 637.53 L647.81 637.73 L649.72 637.92 L651.62 638.09 L653.53 638.25 L655.43 638.4 L657.34 638.53 L659.24 638.65 L661.15 638.76 L663.06 638.86 L664.96 638.95 L666.87 639.03 L668.77 639.11 L670.68 639.18 L672.58 639.24 L674.49 639.3 L676.39 639.35 L678.3 639.4"/><path class="g" d="M508.7 627.44 L510.61 625.77 L512.51 623.92 L514.42 621.87 L516.32 619.61 L518.23 617.12 L520.13 614.39 L522.04 611.42 L523.94 608.19 L525.85 604.69 L527.76 600.92 L529.66 596.87 L531.57 592.56 L533.47 587.99 L535.38 583.17 L537.28 578.13 L539.19 572.9 L541.1 567.52 L543 562.04 L544.91 556.53 L546.81 551.07 L548.72 545.73 L550.62 540.62 L552.53 535.85 L554.43 531.53 L556.34 527.79 L558.25 524.75 L560.15 522.54 L562.06 521.27 L563.96 521.05 L565.87 521.96 L567.77 524.04 L569.68 527.34 L571.59 531.82 L573.49 537.42 L575.4 544.04 L577.3 551.53 L579.21 559.7 L581.11 568.32 L583.02 577.14 L584.92 585.93 L586.83 594.43 L588.74 602.43 L590.64 609.75 L592.55 616.24 L594.45 621.83 L596.36 626.49 L598.26 630.25 L600.17 633.19 L602.08 635.39 L603.98 636.98 L605.89 638.09 L607.79 638.82 L609.7 639.29 L611.6 639.57 L613.51 639.73 L615.41 639.82 L617.32 639.86 L619.23 639.88 L621.13 639.89 L623.04 639.9 L624.94 639.9 L626.85 639.9 L628.75 639.9 L630.66 639.9 L632.57 639.9 L634.47 639.9 L636.38 639.9 L638.28 639.9 L640.19 639.9 L642.09 639.9 L644 639.9 L645.9 639.9 L647.81 639.9 L649.72 639.9 L651.62 639.9 L653.53 639.9 L655.43 639.9 L657.34 639.9 L659.24 639.9 L661.15 639.9 L663.06 639.9 L664.96 639.9 L666.87 639.9 L668.77 639.9 L670.68 639.9 L672.58 639.9 L674.49 639.9 L676.39 639.9 L678.3 639.9"/></g>
<path class="tk" d="M502.7 639.9 h-4.2M502.7 602.4 h-4.2M502.7 564.9 h-4.2M502.7 527.4 h-4.2M502.7 489.9 h-4.2"/><path class="xl" d="M503.5 645.8 H666.3"/><path class="tk" d="M503.9 645.8 v3.9M544.4 645.8 v3.9M584.9 645.8 v3.9M625.4 645.8 v3.9M665.9 645.8 v3.9"/><text class="t" text-anchor="end" transform="translate(495.4 642.2) rotate(0.03)">0.0</text><text class="t" text-anchor="end" transform="translate(495.4 604.7) rotate(0.03)">0.5</text><text class="t" text-anchor="end" transform="translate(495.4 567.2) rotate(0.03)">1.0</text><text class="t" text-anchor="end" transform="translate(495.4 529.7) rotate(0.03)">1.5</text><text class="t" text-anchor="end" transform="translate(495.4 492.2) rotate(0.03)">2.0</text><text class="t" text-anchor="middle" transform="translate(503.9 658.3) rotate(0.03)">1.5</text><text class="t" text-anchor="middle" transform="translate(544.4 658.3) rotate(0.03)">2.0</text><text class="t" text-anchor="middle" transform="translate(584.9 658.3) rotate(0.03)">2.5</text><text class="t" text-anchor="middle" transform="translate(625.4 658.3) rotate(0.03)">3.0</text><text class="t" text-anchor="middle" transform="translate(665.9 658.3) rotate(0.03)">3.5</text><text class="t" text-anchor="middle" transform="translate(593.15 671.5) rotate(0.03)">Wind data (m/s)</text><text class="t" text-anchor="middle" transform="translate(480.6 564.9) rotate(-89.97)">Density</text><text class="ti" text-anchor="middle" transform="translate(592.95 473.3) rotate(0.03)">September</text><rect class="lg" x="608.3" y="484.2" width="76.8" height="33.6"/><path fill="none" stroke="#111" stroke-width="1.0" d="M612.7 490.45 h10.5"/><text class="t" text-anchor="end" transform="translate(681.2 492.6) rotate(0.03)">Observed</text><path fill="none" stroke="#f33" stroke-width="1.25" d="M612.7 496.7 h10.5"/><text class="t" text-anchor="end" textLength="16.8" lengthAdjust="spacingAndGlyphs" transform="translate(681.2 499.2) rotate(0.03)">GEV fit</text><path fill="none" stroke="#33f" stroke-width="1.25" d="M612.7 503.7 h10.5"/><text class="t" text-anchor="end" transform="translate(681.2 505.8) rotate(0.03)">Gumbel fit</text><path fill="none" stroke="#0f0" stroke-width="1.0" d="M612.7 510.45 h10.5"/><text class="t" text-anchor="end" transform="translate(681.2 512.4) rotate(0.03)">Weibull fit</text></g>
<g><clipPath id="c10"><rect x="27.1" y="717.7" width="182.7" height="161.7"/></clipPath>
<path class="ay" d="M27 873.9 V723.1"/>
<g clip-path="url(#c10)" class="bar"><rect x="27.62" y="836.61" width="14.24" height="36.89"/><rect x="41.86" y="836.61" width="14.24" height="36.89"/><rect x="56.1" y="793.58" width="14.24" height="79.92"/><rect x="70.34" y="781.29" width="14.24" height="92.21"/><rect x="84.58" y="805.88" width="14.24" height="67.62"/><rect x="98.82" y="824.32" width="14.24" height="49.18"/><rect x="113.06" y="867.35" width="14.24" height="6.15"/><rect x="127.3" y="867.35" width="14.24" height="6.15"/></g>
<g clip-path="url(#c10)" class="cv"><path class="k" d="M27.2 861 L28.34 858.54 L29.47 856.13 L30.61 853.77 L31.75 851.48 L32.88 849.23 L34.02 847.03 L35.16 844.86 L36.29 842.72 L37.43 840.65 L38.57 838.65 L39.7 836.7 L40.84 834.83 L41.98 833.02 L43.11 831.29 L44.25 829.61 L45.39 828.03 L46.52 826.53 L47.66 825.02 L48.8 823.43 L49.93 821.75 L51.07 820.02 L52.21 818.29 L53.34 816.58 L54.48 814.88 L55.62 813.17 L56.75 811.47 L57.89 809.76 L59.03 808.06 L60.16 806.35 L61.3 804.63 L62.44 802.87 L63.57 801.17 L64.71 799.58 L65.85 798.12 L66.98 796.73 L68.12 795.35 L69.26 793.89 L70.39 792.39 L71.53 790.96 L72.67 789.73 L73.8 788.66 L74.94 787.69 L76.08 786.82 L77.21 786.04 L78.35 785.31 L79.49 784.7 L80.62 784.27 L81.76 783.93 L82.9 783.81 L84.03 784.34 L85.17 785.32 L86.31 786.73 L87.44 788.74 L88.58 790.97 L89.72 793.57 L90.86 796.39 L91.99 799.3 L93.13 802.37 L94.27 805.44 L95.4 808.47 L96.54 811.5 L97.68 814.55 L98.81 817.64 L99.95 820.62 L101.09 823.37 L102.22 825.98 L103.36 828.6 L104.5 831.26 L105.63 833.91 L106.77 836.58 L107.91 839.29 L109.04 841.88 L110.18 844.27 L111.32 846.53 L112.45 848.63 L113.59 850.54 L114.73 852.38 L115.86 854.3 L117 856.25 L118.14 858.05 L119.27 859.71 L120.41 861.21 L121.55 862.46 L122.68 863.54 L123.82 864.5 L124.96 865.31 L126.09 865.99 L127.23 866.58 L128.37 867.1 L129.5 867.55 L130.64 867.95 L131.78 868.3 L132.91 868.64 L134.05 868.98 L135.19 869.36 L136.32 869.74 L137.46 870.11 L138.6 870.46 L139.73 870.77 L140.87 871.07 L142.01 871.35 L143.14 871.62 L144.28 871.85 L145.42 872.05 L146.55 872.24 L147.69 872.41 L148.83 872.56 L149.96 872.69 L151.1 872.8"/><path class="r" d="M33.4 857.15 L35.31 853.92 L37.21 850.3 L39.12 846.31 L41.02 841.98 L42.93 837.34 L44.83 832.44 L46.74 827.33 L48.64 822.08 L50.55 816.78 L52.46 811.5 L54.36 806.33 L56.27 801.35 L58.17 796.67 L60.08 792.35 L61.98 788.49 L63.89 785.13 L65.8 782.35 L67.7 780.18 L69.61 778.66 L71.51 777.8 L73.42 777.62 L75.32 778.09 L77.23 779.2 L79.13 780.92 L81.04 783.19 L82.95 785.99 L84.85 789.23 L86.76 792.87 L88.66 796.84 L90.57 801.08 L92.47 805.51 L94.38 810.08 L96.29 814.72 L98.19 819.38 L100.1 824 L102 828.55 L103.91 832.96 L105.81 837.21 L107.72 841.28 L109.62 845.12 L111.53 848.72 L113.44 852.08 L115.34 855.17 L117.25 857.99 L119.15 860.55 L121.06 862.84 L122.96 864.86 L124.87 866.63 L126.78 868.16 L128.68 869.45 L130.59 870.53 L132.49 871.41 L134.4 872.1 L136.3 872.63 L138.21 873.01 L140.11 873.26"/><path class="b" d="M33.4 862.7 L35.31 858.44 L37.21 853.29 L39.12 847.31 L41.02 840.61 L42.93 833.38 L44.83 825.82 L46.74 818.19 L48.64 810.71 L50.55 803.61 L52.46 797.11 L54.36 791.36 L56.27 786.49 L58.17 782.57 L60.08 779.65 L61.98 777.72 L63.89 776.75 L65.8 776.67 L67.7 777.42 L69.61 778.89 L71.51 781 L73.42 783.64 L75.32 786.71 L77.23 790.12 L79.13 793.78 L81.04 797.62 L82.95 801.56 L84.85 805.54 L86.76 809.52 L88.66 813.45 L90.57 817.29 L92.47 821.01 L94.38 824.6 L96.29 828.04 L98.19 831.32 L100.1 834.43 L102 837.36 L103.91 840.13 L105.81 842.72 L107.72 845.14 L109.62 847.4 L111.53 849.51 L113.44 851.46 L115.34 853.27 L117.25 854.95 L119.15 856.5 L121.06 857.93 L122.96 859.24 L124.87 860.46 L126.78 861.57 L128.68 862.59 L130.59 863.53 L132.49 864.4 L134.4 865.19 L136.3 865.91 L138.21 866.57 L140.11 867.18 L142.02 867.73 L143.93 868.24 L145.83 868.7 L147.74 869.13 L149.64 869.51 L151.55 869.87 L153.45 870.19 L155.36 870.48 L157.27 870.75 L159.17 870.99 L161.08 871.22 L162.98 871.42 L164.89 871.6 L166.79 871.77 L168.7 871.93 L170.6 872.07 L172.51 872.2 L174.42 872.31 L176.32 872.42 L178.23 872.52 L180.13 872.6 L182.04 872.68 L183.94 872.76 L185.85 872.82 L187.76 872.88 L189.66 872.94 L191.57 872.99 L193.47 873.03 L195.38 873.08 L197.28 873.11 L199.19 873.15 L201.09 873.18 L203 873.21"/><path class="g" d="M33.4 855.21 L35.31 853.18 L37.21 850.97 L39.12 848.59 L41.02 846.04 L42.93 843.3 L44.83 840.39 L46.74 837.3 L48.64 834.04 L50.55 830.62 L52.46 827.05 L54.36 823.34 L56.27 819.53 L58.17 815.63 L60.08 811.68 L61.98 807.72 L63.89 803.79 L65.8 799.95 L67.7 796.25 L69.61 792.75 L71.51 789.51 L73.42 786.61 L75.32 784.11 L77.23 782.09 L79.13 780.61 L81.04 779.73 L82.95 779.51 L84.85 780 L86.76 781.22 L88.66 783.18 L90.57 785.89 L92.47 789.32 L94.38 793.43 L96.29 798.14 L98.19 803.37 L100.1 809.01 L102 814.94 L103.91 821.04 L105.81 827.17 L107.72 833.19 L109.62 838.99 L111.53 844.44 L113.44 849.47 L115.34 854 L117.25 857.99 L119.15 861.42 L121.06 864.3 L122.96 866.66 L124.87 868.53 L126.78 869.99 L128.68 871.09 L130.59 871.89 L132.49 872.46 L134.4 872.85 L136.3 873.1 L138.21 873.27 L140.11 873.37 L142.02 873.43 L143.93 873.46 L145.83 873.48 L147.74 873.49 L149.64 873.5 L151.55 873.5 L153.45 873.5 L155.36 873.5 L157.27 873.5 L159.17 873.5 L161.08 873.5 L162.98 873.5 L164.89 873.5 L166.79 873.5 L168.7 873.5 L170.6 873.5 L172.51 873.5 L174.42 873.5 L176.32 873.5 L178.23 873.5 L180.13 873.5 L182.04 873.5 L183.94 873.5 L185.85 873.5 L187.76 873.5 L189.66 873.5 L191.57 873.5 L193.47 873.5 L195.38 873.5 L197.28 873.5 L199.19 873.5 L201.09 873.5 L203 873.5"/></g>
<path class="tk" d="M27.4 873.5 h-4.2M27.4 836 h-4.2M27.4 798.5 h-4.2M27.4 761 h-4.2M27.4 723.5 h-4.2"/><path class="xl" d="M55.7 879.4 H198.9"/><path class="tk" d="M56.1 879.4 v3.9M91.7 879.4 v3.9M127.3 879.4 v3.9M162.9 879.4 v3.9M198.5 879.4 v3.9"/><text class="t" text-anchor="end" transform="translate(20.1 875.8) rotate(0.03)">0.0</text><text class="t" text-anchor="end" transform="translate(20.1 838.3) rotate(0.03)">0.5</text><text class="t" text-anchor="end" transform="translate(20.1 800.8) rotate(0.03)">1.0</text><text class="t" text-anchor="end" transform="translate(20.1 763.3) rotate(0.03)">1.5</text><text class="t" text-anchor="end" transform="translate(20.1 725.8) rotate(0.03)">2.0</text><text class="t" text-anchor="middle" transform="translate(56.1 891.9) rotate(0.03)">2.0</text><text class="t" text-anchor="middle" transform="translate(91.7 891.9) rotate(0.03)">2.5</text><text class="t" text-anchor="middle" transform="translate(127.3 891.9) rotate(0.03)">3.0</text><text class="t" text-anchor="middle" transform="translate(162.9 891.9) rotate(0.03)">3.5</text><text class="t" text-anchor="middle" transform="translate(198.5 891.9) rotate(0.03)">4.0</text><text class="t" text-anchor="middle" transform="translate(117.85 905.1) rotate(0.03)">Wind data (m/s)</text><text class="t" text-anchor="middle" transform="translate(5.3 798.5) rotate(-89.97)">Density</text><text class="ti" text-anchor="middle" transform="translate(117.65 706.9) rotate(0.03)">October</text><rect class="lg" x="133" y="717.8" width="76.8" height="33.6"/><path fill="none" stroke="#222" stroke-width="1.1" d="M137.4 723.85 h10.5"/><text class="t" text-anchor="end" transform="translate(205.9 726.2) rotate(0.03)">Observed</text><path fill="none" stroke="#f00" stroke-width="1.0" d="M137.4 730.5 h10.5"/><text class="t" text-anchor="end" textLength="16.8" lengthAdjust="spacingAndGlyphs" transform="translate(205.9 732.8) rotate(0.03)">GEV fit</text><path fill="none" stroke="#11f" stroke-width="1.1" d="M137.4 737.3 h10.5"/><text class="t" text-anchor="end" transform="translate(205.9 739.4) rotate(0.03)">Gumbel fit</text><path fill="none" stroke="#6f6" stroke-width="1.8" d="M137.4 744 h10.5"/><text class="t" text-anchor="end" transform="translate(205.9 746) rotate(0.03)">Weibull fit</text></g>
<g><clipPath id="c11"><rect x="264.6" y="717.7" width="182.7" height="161.7"/></clipPath>
<path class="ay" d="M264.5 873.9 V723.1"/>
<g clip-path="url(#c11)" class="bar"><rect x="256" y="861.2" width="15.9" height="12.3"/><rect x="271.9" y="836.61" width="15.9" height="36.89"/><rect x="287.8" y="793.58" width="15.9" height="79.92"/><rect x="303.7" y="787.43" width="15.9" height="86.07"/><rect x="319.6" y="787.43" width="15.9" height="86.07"/><rect x="335.5" y="818.17" width="15.9" height="55.33"/><rect x="351.4" y="855.06" width="15.9" height="18.44"/></g>
<g clip-path="url(#c11)" class="cv"><path class="k" d="M264.6 860.6 L265.69 858.48 L266.77 856.35 L267.86 854.21 L268.94 852.07 L270.03 849.92 L271.12 847.77 L272.2 845.6 L273.29 843.43 L274.38 841.24 L275.46 839.07 L276.55 836.9 L277.63 834.74 L278.72 832.6 L279.81 830.47 L280.89 828.34 L281.98 826.21 L283.07 824.06 L284.15 821.9 L285.24 819.72 L286.32 817.54 L287.41 815.35 L288.5 813.18 L289.58 811.03 L290.67 808.91 L291.76 806.82 L292.84 804.73 L293.93 802.64 L295.01 800.55 L296.1 798.4 L297.19 796.12 L298.27 793.85 L299.36 791.71 L300.45 789.84 L301.53 788.2 L302.62 786.67 L303.7 785.38 L304.79 784.47 L305.88 783.72 L306.96 783.06 L308.05 782.59 L309.14 782.4 L310.22 782.62 L311.31 783.22 L312.39 783.98 L313.48 784.74 L314.57 785.63 L315.65 786.65 L316.74 787.74 L317.83 788.88 L318.91 790.14 L320 791.44 L321.08 792.69 L322.17 793.91 L323.26 795.12 L324.34 796.3 L325.43 797.45 L326.52 798.54 L327.6 799.62 L328.69 800.69 L329.77 801.77 L330.86 802.84 L331.95 803.92 L333.03 805.03 L334.12 806.17 L335.21 807.33 L336.29 808.55 L337.38 809.87 L338.46 811.3 L339.55 812.82 L340.64 814.44 L341.72 816.16 L342.81 818.01 L343.9 819.96 L344.98 821.97 L346.07 824.03 L347.15 826.18 L348.24 828.41 L349.33 830.7 L350.41 833.1 L351.5 835.58 L352.59 838.06 L353.67 840.52 L354.76 842.98 L355.84 845.43 L356.93 847.85 L358.02 850.26 L359.1 852.68 L360.19 854.99 L361.28 857.12 L362.36 859.13 L363.45 861.03 L364.53 862.74 L365.62 864.23 L366.71 865.59 L367.79 866.81 L368.88 867.89 L369.97 868.86 L371.05 869.77 L372.14 870.53 L373.22 871.1 L374.31 871.55 L375.4 871.94 L376.48 872.26 L377.57 872.52 L378.66 872.71 L379.74 872.89 L380.83 873.04 L381.91 873.15 L383 873.2"/><path class="r" d="M270.9 857.08 L272.81 854.11 L274.71 850.8 L276.62 847.16 L278.52 843.2 L280.43 838.94 L282.33 834.4 L284.24 829.63 L286.14 824.67 L288.05 819.57 L289.96 814.39 L291.86 809.21 L293.77 804.09 L295.67 799.1 L297.58 794.33 L299.48 789.84 L301.39 785.71 L303.3 781.99 L305.2 778.76 L307.11 776.05 L309.01 773.91 L310.92 772.38 L312.82 771.48 L314.73 771.2 L316.63 771.56 L318.54 772.54 L320.45 774.11 L322.35 776.26 L324.26 778.93 L326.16 782.09 L328.07 785.67 L329.97 789.63 L331.88 793.91 L333.79 798.44 L335.69 803.16 L337.6 808.02 L339.5 812.95 L341.41 817.9 L343.31 822.82 L345.22 827.66 L347.12 832.38 L349.03 836.93 L350.94 841.28 L352.84 845.4 L354.75 849.28 L356.65 852.88 L358.56 856.19 L360.46 859.21 L362.37 861.92 L364.28 864.33 L366.18 866.43 L368.09 868.24 L369.99 869.75 L371.9 870.98 L373.8 871.94 L375.71 872.65 L377.61 873.13 L379.52 873.4"/><path class="b" d="M270.9 861.17 L272.81 856.63 L274.71 851.2 L276.62 844.95 L278.52 838 L280.43 830.52 L282.33 822.72 L284.24 814.83 L286.14 807.06 L288.05 799.66 L289.96 792.81 L291.86 786.68 L293.77 781.39 L295.67 777.04 L297.58 773.68 L299.48 771.3 L301.39 769.89 L303.3 769.4 L305.2 769.77 L307.11 770.91 L309.01 772.73 L310.92 775.14 L312.82 778.04 L314.73 781.34 L316.63 784.94 L318.54 788.78 L320.45 792.77 L322.35 796.86 L324.26 800.98 L326.16 805.09 L328.07 809.14 L329.97 813.11 L331.88 816.96 L333.79 820.68 L335.69 824.25 L337.6 827.66 L339.5 830.91 L341.41 833.98 L343.31 836.88 L345.22 839.61 L347.12 842.17 L349.03 844.56 L350.94 846.8 L352.84 848.89 L354.75 850.83 L356.65 852.63 L358.56 854.31 L360.46 855.85 L362.37 857.29 L364.28 858.61 L366.18 859.83 L368.09 860.96 L369.99 862 L371.9 862.95 L373.8 863.83 L375.71 864.64 L377.61 865.39 L379.52 866.07 L381.43 866.69 L383.33 867.27 L385.24 867.8 L387.14 868.28 L389.05 868.72 L390.95 869.13 L392.86 869.5 L394.77 869.84 L396.67 870.16 L398.58 870.44 L400.48 870.7 L402.39 870.94 L404.29 871.16 L406.2 871.36 L408.1 871.55 L410.01 871.72 L411.92 871.87 L413.82 872.01 L415.73 872.14 L417.63 872.25 L419.54 872.36 L421.44 872.46 L423.35 872.55 L425.26 872.63 L427.16 872.71 L429.07 872.77 L430.97 872.84 L432.88 872.89 L434.78 872.95 L436.69 872.99 L438.59 873.04 L440.5 873.08"/><path class="g" d="M270.9 854.52 L272.81 852.51 L274.71 850.34 L276.62 848.01 L278.52 845.5 L280.43 842.82 L282.33 839.96 L284.24 836.92 L286.14 833.71 L288.05 830.32 L289.96 826.78 L291.86 823.08 L293.77 819.25 L295.67 815.31 L297.58 811.28 L299.48 807.19 L301.39 803.09 L303.3 799 L305.2 794.99 L307.11 791.09 L309.01 787.38 L310.92 783.91 L312.82 780.76 L314.73 777.98 L316.63 775.65 L318.54 773.84 L320.45 772.62 L322.35 772.04 L324.26 772.16 L326.16 773.01 L328.07 774.62 L329.97 777 L331.88 780.14 L333.79 784.01 L335.69 788.56 L337.6 793.72 L339.5 799.38 L341.41 805.45 L343.31 811.79 L345.22 818.28 L347.12 824.77 L349.03 831.13 L350.94 837.23 L352.84 842.97 L354.75 848.25 L356.65 853.01 L358.56 857.19 L360.46 860.79 L362.37 863.81 L364.28 866.29 L366.18 868.26 L368.09 869.79 L369.99 870.95 L371.9 871.79 L373.8 872.39 L375.71 872.81 L377.61 873.08 L379.52 873.25 L381.43 873.36 L383.33 873.43 L385.24 873.46 L387.14 873.48 L389.05 873.49 L390.95 873.5 L392.86 873.5 L394.77 873.5 L396.67 873.5 L398.58 873.5 L400.48 873.5 L402.39 873.5 L404.29 873.5 L406.2 873.5 L408.1 873.5 L410.01 873.5 L411.92 873.5 L413.82 873.5 L415.73 873.5 L417.63 873.5 L419.54 873.5 L421.44 873.5 L423.35 873.5 L425.26 873.5 L427.16 873.5 L429.07 873.5 L430.97 873.5 L432.88 873.5 L434.78 873.5 L436.69 873.5 L438.59 873.5 L440.5 873.5"/></g>
<path class="tk" d="M264.9 873.5 h-4.2M264.9 836 h-4.2M264.9 798.5 h-4.2M264.9 761 h-4.2M264.9 723.5 h-4.2"/><path class="xl" d="M287.4 879.4 H447.2"/><path class="tk" d="M287.8 879.4 v3.9M327.55 879.4 v3.9M367.3 879.4 v3.9M407.05 879.4 v3.9M446.8 879.4 v3.9"/><text class="t" text-anchor="end" transform="translate(257.6 875.8) rotate(0.03)">0.0</text><text class="t" text-anchor="end" transform="translate(257.6 838.3) rotate(0.03)">0.5</text><text class="t" text-anchor="end" transform="translate(257.6 800.8) rotate(0.03)">1.0</text><text class="t" text-anchor="end" transform="translate(257.6 763.3) rotate(0.03)">1.5</text><text class="t" text-anchor="end" transform="translate(257.6 725.8) rotate(0.03)">2.0</text><text class="t" text-anchor="middle" transform="translate(287.8 891.9) rotate(0.03)">2.0</text><text class="t" text-anchor="middle" transform="translate(327.55 891.9) rotate(0.03)">2.5</text><text class="t" text-anchor="middle" transform="translate(367.3 891.9) rotate(0.03)">3.0</text><text class="t" text-anchor="middle" transform="translate(407.05 891.9) rotate(0.03)">3.5</text><text class="t" text-anchor="middle" transform="translate(446.8 891.9) rotate(0.03)">4.0</text><text class="t" text-anchor="middle" transform="translate(355.35 905.1) rotate(0.03)">Wind data (m/s)</text><text class="t" text-anchor="middle" transform="translate(242.8 798.5) rotate(-89.97)">Density</text><text class="ti" text-anchor="middle" transform="translate(355.15 706.9) rotate(0.03)">November</text><rect class="lg" x="370.5" y="717.8" width="76.8" height="33.6"/><path fill="none" stroke="#222" stroke-width="1.1" d="M374.9 723.85 h10.5"/><text class="t" text-anchor="end" transform="translate(443.4 726.2) rotate(0.03)">Observed</text><path fill="none" stroke="#f00" stroke-width="1.0" d="M374.9 730.5 h10.5"/><text class="t" text-anchor="end" textLength="16.8" lengthAdjust="spacingAndGlyphs" transform="translate(443.4 732.8) rotate(0.03)">GEV fit</text><path fill="none" stroke="#11f" stroke-width="1.1" d="M374.9 737.3 h10.5"/><text class="t" text-anchor="end" transform="translate(443.4 739.4) rotate(0.03)">Gumbel fit</text><path fill="none" stroke="#6f6" stroke-width="1.8" d="M374.9 744 h10.5"/><text class="t" text-anchor="end" transform="translate(443.4 746) rotate(0.03)">Weibull fit</text></g>
<g><clipPath id="c12"><rect x="502.4" y="717.7" width="182.7" height="161.7"/></clipPath>
<path class="ay" d="M502.3 873.9 V723.1"/>
<g clip-path="url(#c12)" class="bar"><rect x="508.4" y="821.86" width="30.7" height="51.64"/><rect x="539.1" y="799.73" width="30.7" height="73.77"/><rect x="569.8" y="856.29" width="30.7" height="17.21"/><rect x="600.5" y="866.12" width="30.7" height="7.38"/></g>
<g clip-path="url(#c12)" class="cv"><path class="k" d="M502.4 868.6 L503.63 867.46 L504.86 866.19 L506.09 864.82 L507.32 863.35 L508.55 861.78 L509.78 860.03 L511.01 858.05 L512.24 855.8 L513.47 853.22 L514.7 850.18 L515.93 846.48 L517.16 842.45 L518.39 838.04 L519.62 833.39 L520.85 828.84 L522.08 824.28 L523.31 819.9 L524.54 815.65 L525.78 811.68 L527.01 808.05 L528.24 804.73 L529.47 802.07 L530.7 799.88 L531.93 798.09 L533.16 796.66 L534.39 795.48 L535.62 794.56 L536.85 793.78 L538.08 793.33 L539.31 793.08 L540.54 793.02 L541.77 793.5 L543 794.17 L544.23 795.04 L545.46 795.97 L546.69 796.87 L547.92 797.7 L549.15 798.28 L550.38 798.72 L551.61 799.02 L552.84 799.19 L554.07 799.34 L555.3 799.53 L556.53 799.76 L557.76 800.08 L558.99 800.63 L560.22 801.4 L561.45 802.45 L562.68 803.92 L563.91 805.57 L565.14 807.48 L566.37 809.74 L567.6 812.63 L568.83 816.09 L570.07 819.63 L571.3 823.34 L572.53 827.08 L573.76 830.77 L574.99 834.46 L576.22 838.17 L577.45 841.92 L578.68 845.5 L579.91 848.9 L581.14 852.11 L582.37 855.06 L583.6 857.81 L584.83 860.2 L586.06 862.31 L587.29 864.12 L588.52 865.65 L589.75 866.96 L590.98 867.96 L592.21 868.8 L593.44 869.38 L594.67 869.73 L595.9 869.97 L597.13 869.96 L598.36 869.73 L599.59 869.37 L600.82 868.75 L602.05 867.91 L603.28 867.05 L604.51 866.12 L605.74 865.23 L606.97 864.34 L608.2 863.56 L609.43 862.94 L610.66 862.43 L611.89 862.12 L613.12 861.91 L614.36 861.8 L615.59 861.9 L616.82 862.2 L618.05 862.63 L619.28 863.44 L620.51 864.4 L621.74 865.43 L622.97 866.54 L624.2 867.58 L625.43 868.58 L626.66 869.52 L627.89 870.43 L629.12 871.22 L630.35 871.74 L631.58 872.14 L632.81 872.46 L634.04 872.7 L635.27 872.88 L636.5 873"/><path class="r" d="M508.7 864.77 L510.61 861.36 L512.51 857.17 L514.42 852.22 L516.32 846.55 L518.23 840.27 L520.13 833.53 L522.04 826.52 L523.94 819.45 L525.85 812.53 L527.76 805.97 L529.66 799.97 L531.57 794.69 L533.47 790.24 L535.38 786.72 L537.28 784.18 L539.19 782.62 L541.1 782.01 L543 782.31 L544.91 783.43 L546.81 785.3 L548.72 787.8 L550.62 790.83 L552.53 794.3 L554.43 798.09 L556.34 802.12 L558.25 806.29 L560.15 810.54 L562.06 814.8 L563.96 819.01 L565.87 823.12 L567.77 827.1 L569.68 830.92 L571.59 834.56 L573.49 838 L575.4 841.23 L577.3 844.25 L579.21 847.06 L581.11 849.67 L583.02 852.06 L584.92 854.27 L586.83 856.28 L588.74 858.12 L590.64 859.8 L592.55 861.31 L594.45 862.68 L596.36 863.92 L598.26 865.03 L600.17 866.03 L602.08 866.92 L603.98 867.72 L605.89 868.43 L607.79 869.06 L609.7 869.62 L611.6 870.12 L613.51 870.56 L615.41 870.94 L617.32 871.28 L619.23 871.58 L621.13 871.85 L623.04 872.08 L624.94 872.28 L626.85 872.45 L628.75 872.6 L630.66 872.73 L632.57 872.85 L634.47 872.95 L636.38 873.03 L638.28 873.1 L640.19 873.17 L642.09 873.22"/><path class="b" d="M508.7 867.96 L510.61 864.88 L512.51 860.79 L514.42 855.66 L516.32 849.53 L518.23 842.53 L520.13 834.9 L522.04 826.9 L523.94 818.84 L525.85 811.05 L527.76 803.79 L529.66 797.32 L531.57 791.81 L533.47 787.41 L535.38 784.15 L537.28 782.06 L539.19 781.09 L541.1 781.16 L543 782.17 L544.91 783.99 L546.81 786.5 L548.72 789.57 L550.62 793.08 L552.53 796.9 L554.43 800.94 L556.34 805.11 L558.25 809.32 L560.15 813.51 L562.06 817.63 L563.96 821.64 L565.87 825.5 L567.77 829.19 L569.68 832.69 L571.59 836 L573.49 839.1 L575.4 842.01 L577.3 844.71 L579.21 847.22 L581.11 849.54 L583.02 851.68 L584.92 853.65 L586.83 855.46 L588.74 857.12 L590.64 858.63 L592.55 860.02 L594.45 861.28 L596.36 862.43 L598.26 863.48 L600.17 864.44 L602.08 865.3 L603.98 866.09 L605.89 866.8 L607.79 867.44 L609.7 868.03 L611.6 868.56 L613.51 869.04 L615.41 869.47 L617.32 869.86 L619.23 870.22 L621.13 870.54 L623.04 870.83 L624.94 871.09 L626.85 871.33 L628.75 871.54 L630.66 871.73 L632.57 871.91 L634.47 872.06 L636.38 872.2 L638.28 872.33 L640.19 872.45 L642.09 872.55 L644 872.64 L645.9 872.73 L647.81 872.8 L649.72 872.87 L651.62 872.93 L653.53 872.99 L655.43 873.04 L657.34 873.09 L659.24 873.13 L661.15 873.16 L663.06 873.2 L664.96 873.23"/><path class="g" d="M508.7 853.42 L510.61 851.55 L512.51 849.57 L514.42 847.49 L516.32 845.32 L518.23 843.05 L520.13 840.7 L522.04 838.28 L523.94 835.79 L525.85 833.25 L527.76 830.67 L529.66 828.08 L531.57 825.49 L533.47 822.92 L535.38 820.4 L537.28 817.96 L539.19 815.62 L541.1 813.41 L543 811.36 L544.91 809.5 L546.81 807.87 L548.72 806.49 L550.62 805.38 L552.53 804.59 L554.43 804.12 L556.34 804.01 L558.25 804.26 L560.15 804.88 L562.06 805.89 L563.96 807.28 L565.87 809.03 L567.77 811.14 L569.68 813.59 L571.59 816.33 L573.49 819.35 L575.4 822.58 L577.3 826 L579.21 829.55 L581.11 833.18 L583.02 836.83 L584.92 840.45 L586.83 844 L588.74 847.43 L590.64 850.69 L592.55 853.76 L594.45 856.61 L596.36 859.21 L598.26 861.55 L600.17 863.64 L602.08 865.46 L603.98 867.04 L605.89 868.37 L607.79 869.49 L609.7 870.41 L611.6 871.16 L613.51 871.75 L615.41 872.22 L617.32 872.58 L619.23 872.85 L621.13 873.05 L623.04 873.19 L624.94 873.29 L626.85 873.36 L628.75 873.41 L630.66 873.45 L632.57 873.47 L634.47 873.48 L636.38 873.49 L638.28 873.49 L640.19 873.5 L642.09 873.5 L644 873.5 L645.9 873.5 L647.81 873.5 L649.72 873.5 L651.62 873.5 L653.53 873.5 L655.43 873.5 L657.34 873.5 L659.24 873.5 L661.15 873.5 L663.06 873.5 L664.96 873.5 L666.87 873.5 L668.77 873.5 L670.68 873.5 L672.58 873.5 L674.49 873.5 L676.39 873.5 L678.3 873.5"/></g>
<path class="tk" d="M502.7 873.5 h-4.2M502.7 836 h-4.2M502.7 798.5 h-4.2M502.7 761 h-4.2M502.7 723.5 h-4.2"/><path class="xl" d="M508 879.4 H662.3"/><path class="tk" d="M508.4 879.4 v3.9M539.1 879.4 v3.9M569.8 879.4 v3.9M600.5 879.4 v3.9M631.2 879.4 v3.9M661.9 879.4 v3.9"/><text class="t" text-anchor="end" transform="translate(495.4 875.8) rotate(0.03)">0.0</text><text class="t" text-anchor="end" transform="translate(495.4 838.3) rotate(0.03)">0.5</text><text class="t" text-anchor="end" transform="translate(495.4 800.8) rotate(0.03)">1.0</text><text class="t" text-anchor="end" transform="translate(495.4 763.3) rotate(0.03)">1.5</text><text class="t" text-anchor="end" transform="translate(495.4 725.8) rotate(0.03)">2.0</text><text class="t" text-anchor="middle" transform="translate(508.4 891.9) rotate(0.03)">1.5</text><text class="t" text-anchor="middle" transform="translate(539.1 891.9) rotate(0.03)">2.0</text><text class="t" text-anchor="middle" transform="translate(569.8 891.9) rotate(0.03)">2.5</text><text class="t" text-anchor="middle" transform="translate(600.5 891.9) rotate(0.03)">3.0</text><text class="t" text-anchor="middle" transform="translate(631.2 891.9) rotate(0.03)">3.5</text><text class="t" text-anchor="middle" transform="translate(661.9 891.9) rotate(0.03)">4.0</text><text class="t" text-anchor="middle" transform="translate(593.15 905.1) rotate(0.03)">Wind data (m/s)</text><text class="t" text-anchor="middle" transform="translate(480.6 798.5) rotate(-89.97)">Density</text><text class="ti" text-anchor="middle" transform="translate(592.95 706.9) rotate(0.03)">December</text><rect class="lg" x="608.3" y="717.8" width="76.8" height="33.6"/><path fill="none" stroke="#222" stroke-width="1.1" d="M612.7 723.85 h10.5"/><text class="t" text-anchor="end" transform="translate(681.2 726.2) rotate(0.03)">Observed</text><path fill="none" stroke="#f00" stroke-width="1.0" d="M612.7 730.5 h10.5"/><text class="t" text-anchor="end" textLength="16.8" lengthAdjust="spacingAndGlyphs" transform="translate(681.2 732.8) rotate(0.03)">GEV fit</text><path fill="none" stroke="#11f" stroke-width="1.1" d="M612.7 737.3 h10.5"/><text class="t" text-anchor="end" transform="translate(681.2 739.4) rotate(0.03)">Gumbel fit</text><path fill="none" stroke="#6f6" stroke-width="1.8" d="M612.7 744 h10.5"/><text class="t" text-anchor="end" transform="translate(681.2 746) rotate(0.03)">Weibull fit</text></g>
</svg>
</body></html>
